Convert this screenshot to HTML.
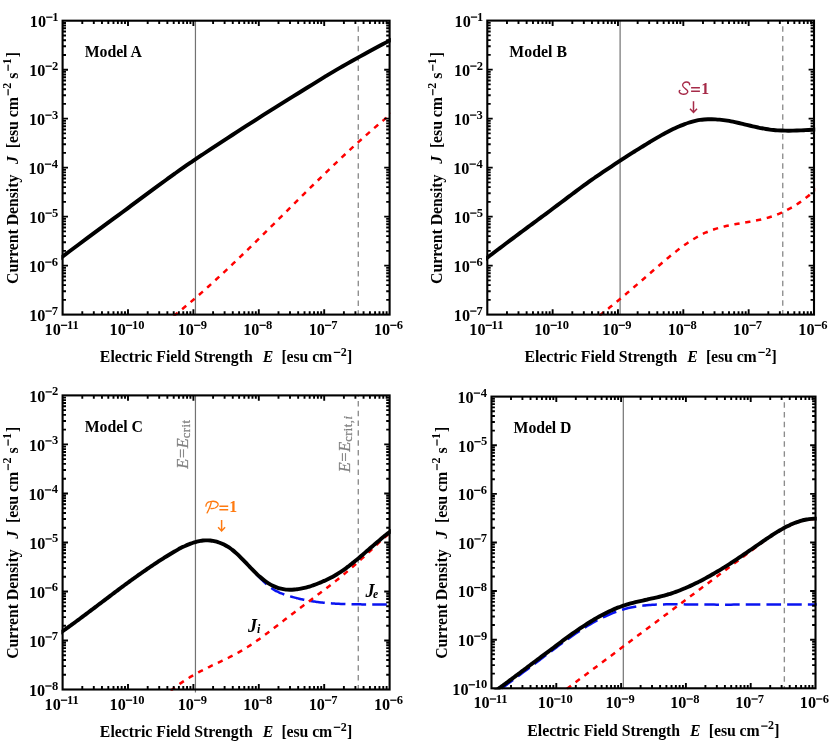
<!DOCTYPE html>
<html><head><meta charset="utf-8"><title>Current density vs electric field strength</title>
<style>html,body{margin:0;padding:0;background:#fff;}body{width:830px;height:741px;overflow:hidden;font-family:"Liberation Serif",serif;}svg{display:block;will-change:transform;}</style>
</head><body>
<svg width="830" height="741" viewBox="0 0 830 741">
<rect width="830" height="741" fill="#fff"/>
<defs>
<clipPath id="cpA"><rect x="61.4" y="19.5" width="329.4" height="296.3"/></clipPath>
<clipPath id="cpB"><rect x="486.1" y="19.4" width="329.1" height="296.4"/></clipPath>
<clipPath id="cpC"><rect x="61.4" y="394.2" width="329.4" height="296.5"/></clipPath>
<clipPath id="cpD"><rect x="490.3" y="395.4" width="326.4" height="294.1"/></clipPath>
</defs>
<g id="panelA">
<line x1="195.45" y1="20.7" x2="195.45" y2="314.6" stroke="#727272" stroke-width="1.2"/>
<line x1="358.28" y1="20.7" x2="358.28" y2="314.6" stroke="#8c8c8c" stroke-width="1.35" stroke-dasharray="5.5 4.29" stroke-dashoffset="4.2"/>
<g clip-path="url(#cpA)" fill="none">
<path d="M160 326.47 C161 325.72 164.02 323.48 166.03 321.95 C168.03 320.41 170.04 318.86 172.05 317.28 C174.06 315.7 176.07 314.1 178.08 312.48 C180.09 310.86 182.09 309.22 184.1 307.56 C186.11 305.9 188.12 304.21 190.13 302.51 C192.14 300.81 194.15 299.09 196.15 297.35 C198.16 295.62 200.17 293.86 202.18 292.09 C204.19 290.32 206.2 288.53 208.21 286.73 C210.21 284.93 212.22 283.11 214.23 281.27 C216.24 279.44 218.25 277.6 220.26 275.74 C222.26 273.88 224.27 272.01 226.28 270.12 C228.29 268.24 230.3 266.34 232.31 264.44 C234.32 262.53 236.32 260.62 238.33 258.69 C240.34 256.77 242.35 254.83 244.36 252.89 C246.37 250.95 248.38 249 250.38 247.04 C252.39 245.08 254.4 243.12 256.41 241.15 C258.42 239.18 260.43 237.2 262.44 235.23 C264.44 233.25 266.45 231.26 268.46 229.27 C270.47 227.29 272.48 225.3 274.49 223.3 C276.5 221.31 278.5 219.31 280.51 217.32 C282.52 215.32 284.53 213.33 286.54 211.33 C288.55 209.33 290.56 207.34 292.56 205.34 C294.57 203.35 296.58 201.36 298.59 199.37 C300.6 197.38 302.61 195.39 304.62 193.41 C306.62 191.42 308.63 189.44 310.64 187.47 C312.65 185.49 314.66 183.52 316.67 181.56 C318.68 179.6 320.68 177.64 322.69 175.69 C324.7 173.74 326.71 171.8 328.72 169.87 C330.73 167.93 332.74 166.01 334.74 164.1 C336.75 162.18 338.76 160.28 340.77 158.38 C342.78 156.49 344.79 154.61 346.79 152.74 C348.8 150.87 350.81 149.01 352.82 147.16 C354.83 145.32 356.84 143.49 358.85 141.67 C360.85 139.86 362.86 138.05 364.87 136.27 C366.88 134.48 368.89 132.71 370.9 130.96 C372.91 129.21 374.91 127.47 376.92 125.75 C378.93 124.04 380.94 122.34 382.95 120.66 C384.96 118.98 386.97 117.32 388.97 115.68 C390.98 114.04 394 111.63 395 110.82" stroke="#ff0000" stroke-width="2.5" stroke-dasharray="5.3 5.7" stroke-dashoffset="4.9"/>
<path d="M52 264.54 C53.47 263.44 57.86 260.11 60.79 257.9 C63.73 255.69 66.66 253.48 69.59 251.28 C72.52 249.08 75.45 246.89 78.38 244.7 C81.32 242.51 84.25 240.32 87.18 238.14 C90.11 235.97 93.04 233.79 95.97 231.62 C98.91 229.46 101.84 227.29 104.77 225.14 C107.7 222.98 110.63 220.83 113.56 218.69 C116.5 216.54 119.43 214.44 122.36 212.27 C125.29 210.1 128.22 207.87 131.15 205.68 C134.09 203.48 137.02 201.3 139.95 199.12 C142.88 196.94 145.81 194.77 148.74 192.61 C151.68 190.45 154.61 188.29 157.54 186.14 C160.47 183.99 163.4 181.85 166.33 179.72 C169.26 177.58 172.2 175.44 175.13 173.34 C178.06 171.23 180.99 169.11 183.92 167.08 C186.85 165.04 189.79 163.1 192.72 161.13 C195.65 159.15 198.58 157.19 201.51 155.23 C204.44 153.27 207.38 151.32 210.31 149.38 C213.24 147.44 216.17 145.51 219.1 143.58 C222.03 141.66 224.97 139.75 227.9 137.84 C230.83 135.94 233.76 134.05 236.69 132.15 C239.62 130.26 242.56 128.37 245.49 126.47 C248.42 124.58 251.35 122.67 254.28 120.78 C257.21 118.89 260.15 117.01 263.08 115.15 C266.01 113.28 268.94 111.42 271.87 109.57 C274.8 107.72 277.74 105.88 280.67 104.06 C283.6 102.23 286.53 100.41 289.46 98.61 C292.39 96.8 295.32 95.03 298.26 93.22 C301.19 91.41 304.12 89.59 307.05 87.78 C309.98 85.96 312.91 84.12 315.85 82.31 C318.78 80.5 321.71 78.7 324.64 76.91 C327.57 75.12 330.5 73.31 333.44 71.58 C336.37 69.84 339.3 68.17 342.23 66.49 C345.16 64.81 348.09 63.16 351.03 61.51 C353.96 59.87 356.89 58.23 359.82 56.61 C362.75 54.99 365.68 53.38 368.62 51.78 C371.55 50.19 374.48 48.6 377.41 47.03 C380.34 45.46 383.27 43.9 386.21 42.35 C389.14 40.81 393.53 38.52 395 37.76" stroke="#000" stroke-width="3.9" stroke-linejoin="round"/>
</g>
<path d="M82.29 314.6v-3.4 M82.29 20.7v3.4 M93.8 314.6v-3.4 M93.8 20.7v3.4 M101.97 314.6v-3.4 M101.97 20.7v3.4 M108.31 314.6v-3.4 M108.31 20.7v3.4 M113.49 314.6v-3.4 M113.49 20.7v3.4 M117.87 314.6v-3.4 M117.87 20.7v3.4 M121.66 314.6v-3.4 M121.66 20.7v3.4 M125.01 314.6v-3.4 M125.01 20.7v3.4 M128 314.6v-5.4 M128 20.7v5.4 M147.69 314.6v-3.4 M147.69 20.7v3.4 M159.2 314.6v-3.4 M159.2 20.7v3.4 M167.37 314.6v-3.4 M167.37 20.7v3.4 M173.71 314.6v-3.4 M173.71 20.7v3.4 M178.89 314.6v-3.4 M178.89 20.7v3.4 M183.27 314.6v-3.4 M183.27 20.7v3.4 M187.06 314.6v-3.4 M187.06 20.7v3.4 M190.41 314.6v-3.4 M190.41 20.7v3.4 M193.4 314.6v-5.4 M193.4 20.7v5.4 M213.09 314.6v-3.4 M213.09 20.7v3.4 M224.6 314.6v-3.4 M224.6 20.7v3.4 M232.77 314.6v-3.4 M232.77 20.7v3.4 M239.11 314.6v-3.4 M239.11 20.7v3.4 M244.29 314.6v-3.4 M244.29 20.7v3.4 M248.67 314.6v-3.4 M248.67 20.7v3.4 M252.46 314.6v-3.4 M252.46 20.7v3.4 M255.81 314.6v-3.4 M255.81 20.7v3.4 M258.8 314.6v-5.4 M258.8 20.7v5.4 M278.49 314.6v-3.4 M278.49 20.7v3.4 M290 314.6v-3.4 M290 20.7v3.4 M298.17 314.6v-3.4 M298.17 20.7v3.4 M304.51 314.6v-3.4 M304.51 20.7v3.4 M309.69 314.6v-3.4 M309.69 20.7v3.4 M314.07 314.6v-3.4 M314.07 20.7v3.4 M317.86 314.6v-3.4 M317.86 20.7v3.4 M321.21 314.6v-3.4 M321.21 20.7v3.4 M324.2 314.6v-5.4 M324.2 20.7v5.4 M343.89 314.6v-3.4 M343.89 20.7v3.4 M355.4 314.6v-3.4 M355.4 20.7v3.4 M363.57 314.6v-3.4 M363.57 20.7v3.4 M369.91 314.6v-3.4 M369.91 20.7v3.4 M375.09 314.6v-3.4 M375.09 20.7v3.4 M379.47 314.6v-3.4 M379.47 20.7v3.4 M383.26 314.6v-3.4 M383.26 20.7v3.4 M386.61 314.6v-3.4 M386.61 20.7v3.4 M62.6 299.85h3.4 M389.6 299.85h-3.4 M62.6 291.23h3.4 M389.6 291.23h-3.4 M62.6 285.11h3.4 M389.6 285.11h-3.4 M62.6 280.36h3.4 M389.6 280.36h-3.4 M62.6 276.48h3.4 M389.6 276.48h-3.4 M62.6 273.2h3.4 M389.6 273.2h-3.4 M62.6 270.36h3.4 M389.6 270.36h-3.4 M62.6 267.86h3.4 M389.6 267.86h-3.4 M62.6 265.62h5.4 M389.6 265.62h-5.4 M62.6 250.87h3.4 M389.6 250.87h-3.4 M62.6 242.25h3.4 M389.6 242.25h-3.4 M62.6 236.13h3.4 M389.6 236.13h-3.4 M62.6 231.38h3.4 M389.6 231.38h-3.4 M62.6 227.5h3.4 M389.6 227.5h-3.4 M62.6 224.22h3.4 M389.6 224.22h-3.4 M62.6 221.38h3.4 M389.6 221.38h-3.4 M62.6 218.87h3.4 M389.6 218.87h-3.4 M62.6 216.63h5.4 M389.6 216.63h-5.4 M62.6 201.89h3.4 M389.6 201.89h-3.4 M62.6 193.26h3.4 M389.6 193.26h-3.4 M62.6 187.14h3.4 M389.6 187.14h-3.4 M62.6 182.4h3.4 M389.6 182.4h-3.4 M62.6 178.52h3.4 M389.6 178.52h-3.4 M62.6 175.24h3.4 M389.6 175.24h-3.4 M62.6 172.4h3.4 M389.6 172.4h-3.4 M62.6 169.89h3.4 M389.6 169.89h-3.4 M62.6 167.65h5.4 M389.6 167.65h-5.4 M62.6 152.9h3.4 M389.6 152.9h-3.4 M62.6 144.28h3.4 M389.6 144.28h-3.4 M62.6 138.16h3.4 M389.6 138.16h-3.4 M62.6 133.41h3.4 M389.6 133.41h-3.4 M62.6 129.53h3.4 M389.6 129.53h-3.4 M62.6 126.25h3.4 M389.6 126.25h-3.4 M62.6 123.41h3.4 M389.6 123.41h-3.4 M62.6 120.91h3.4 M389.6 120.91h-3.4 M62.6 118.67h5.4 M389.6 118.67h-5.4 M62.6 103.92h3.4 M389.6 103.92h-3.4 M62.6 95.3h3.4 M389.6 95.3h-3.4 M62.6 89.18h3.4 M389.6 89.18h-3.4 M62.6 84.43h3.4 M389.6 84.43h-3.4 M62.6 80.55h3.4 M389.6 80.55h-3.4 M62.6 77.27h3.4 M389.6 77.27h-3.4 M62.6 74.43h3.4 M389.6 74.43h-3.4 M62.6 71.92h3.4 M389.6 71.92h-3.4 M62.6 69.68h5.4 M389.6 69.68h-5.4 M62.6 54.94h3.4 M389.6 54.94h-3.4 M62.6 46.31h3.4 M389.6 46.31h-3.4 M62.6 40.19h3.4 M389.6 40.19h-3.4 M62.6 35.45h3.4 M389.6 35.45h-3.4 M62.6 31.57h3.4 M389.6 31.57h-3.4 M62.6 28.29h3.4 M389.6 28.29h-3.4 M62.6 25.45h3.4 M389.6 25.45h-3.4 M62.6 22.94h3.4 M389.6 22.94h-3.4" stroke="#000" stroke-width="1.9" fill="none"/>
<rect x="62.6" y="20.7" width="327" height="293.9" fill="none" stroke="#000" stroke-width="2.1"/>
<g font-family='"Liberation Serif", serif' font-weight="bold" font-size="15.8" fill="#000">
<text x="44.59" y="334.7" font-size="16.2" xml:space="preserve">10</text><rect x="60.92" y="324.68" width="6.3" height="1.25" fill="#000"/><text x="66.92" y="328.8" font-size="12.5" xml:space="preserve">11</text>
<text x="109.55" y="334.7" font-size="16.2" xml:space="preserve">10</text><rect x="125.89" y="324.68" width="6.3" height="1.25" fill="#000"/><text x="131.89" y="328.8" font-size="12.5" xml:space="preserve">10</text>
<text x="177.74" y="334.7" font-size="16.2" xml:space="preserve">10</text><rect x="194.07" y="324.68" width="6.3" height="1.25" fill="#000"/><text x="200.76" y="328.8" font-size="12.5" xml:space="preserve">9</text>
<text x="243.14" y="334.7" font-size="16.2" xml:space="preserve">10</text><rect x="259.47" y="324.68" width="6.3" height="1.25" fill="#000"/><text x="266.09" y="328.8" font-size="12.5" xml:space="preserve">8</text>
<text x="308.63" y="334.7" font-size="16.2" xml:space="preserve">10</text><rect x="324.96" y="324.68" width="6.3" height="1.25" fill="#000"/><text x="331.27" y="328.8" font-size="12.5" xml:space="preserve">7</text>
<text x="373.9" y="334.7" font-size="16.2" xml:space="preserve">10</text><rect x="390.24" y="324.68" width="6.3" height="1.25" fill="#000"/><text x="396.86" y="328.8" font-size="12.5" xml:space="preserve">6</text>
<text x="29.15" y="320.9" font-size="16.2" xml:space="preserve">10</text><rect x="45.49" y="310.48" width="6.3" height="1.25" fill="#000"/><text x="51.8" y="314.6" font-size="12.5" xml:space="preserve">7</text>
<text x="28.9" y="271.92" font-size="16.2" xml:space="preserve">10</text><rect x="45.24" y="261.49" width="6.3" height="1.25" fill="#000"/><text x="51.86" y="265.62" font-size="12.5" xml:space="preserve">6</text>
<text x="29.15" y="222.93" font-size="16.2" xml:space="preserve">10</text><rect x="45.49" y="212.51" width="6.3" height="1.25" fill="#000"/><text x="51.99" y="216.63" font-size="12.5" xml:space="preserve">5</text>
<text x="28.53" y="173.95" font-size="16.2" xml:space="preserve">10</text><rect x="44.86" y="163.53" width="6.3" height="1.25" fill="#000"/><text x="51.74" y="167.65" font-size="12.5" xml:space="preserve">4</text>
<text x="29.03" y="124.97" font-size="16.2" xml:space="preserve">10</text><rect x="45.36" y="114.54" width="6.3" height="1.25" fill="#000"/><text x="51.93" y="118.67" font-size="12.5" xml:space="preserve">3</text>
<text x="29.22" y="75.98" font-size="16.2" xml:space="preserve">10</text><rect x="45.55" y="65.56" width="6.3" height="1.25" fill="#000"/><text x="52.05" y="69.68" font-size="12.5" xml:space="preserve">2</text>
<text x="29.84" y="27" font-size="16.2" xml:space="preserve">10</text><rect x="46.18" y="16.57" width="6.3" height="1.25" fill="#000"/><text x="52.18" y="20.7" font-size="12.5" xml:space="preserve">1</text>
<text x="99.86" y="361.9" font-size="15.8" letter-spacing="-0.02" xml:space="preserve">Electric Field Strength</text>
<text x="262.66" y="361.9" font-size="15.8" font-style="italic" xml:space="preserve">E</text>
<text x="281.39" y="361.9" font-size="15.8" letter-spacing="-0.08" xml:space="preserve">[esu cm</text>
<rect x="333.8" y="351.8" width="6.4" height="1.2" fill="#000"/>
<text x="340.72" y="355.7" font-size="12" xml:space="preserve">2</text>
<text x="346.95" y="361.9" font-size="15.8" xml:space="preserve">]</text>
<g transform="translate(17.6 167.65) rotate(-90)">
<text x="-116.31" y="0" font-size="15.8" letter-spacing="-0.04" xml:space="preserve">Current Density</text>
<text x="3.78" y="0" font-size="15.8" font-style="italic" xml:space="preserve">J</text>
<text x="19.49" y="0" font-size="15.8" letter-spacing="-0.05" xml:space="preserve">[esu cm</text>
<rect x="72.3" y="-10.1" width="6.2" height="1.2" fill="#000"/>
<text x="78.92" y="-6.2" font-size="12" xml:space="preserve">2</text>
<text x="88.83" y="0" font-size="15.8" xml:space="preserve">s</text>
<rect x="96.8" y="-10.1" width="6.2" height="1.2" fill="#000"/>
<text x="103.44" y="-6.2" font-size="12" xml:space="preserve">1</text>
<text x="110.45" y="0" font-size="15.8" xml:space="preserve">]</text>
</g>
<text x="84.66" y="57.2" font-size="15.8" letter-spacing="-0.04" xml:space="preserve">Model A</text>
</g>
</g>
<g id="panelB">
<line x1="620.1" y1="20.6" x2="620.1" y2="314.6" stroke="#727272" stroke-width="1.2"/>
<line x1="782.75" y1="20.6" x2="782.75" y2="314.6" stroke="#8c8c8c" stroke-width="1.35" stroke-dasharray="5.5 4.29" stroke-dashoffset="4.2"/>
<g clip-path="url(#cpB)" fill="none">
<path d="M588 324.05 C588.49 323.7 589.96 322.65 590.94 321.94 C591.92 321.23 592.89 320.51 593.87 319.78 C594.85 319.06 595.83 318.32 596.81 317.59 C597.79 316.85 598.77 316.1 599.75 315.35 C600.73 314.6 601.7 313.84 602.68 313.08 C603.66 312.31 604.64 311.54 605.62 310.77 C606.6 310 607.58 309.22 608.56 308.43 C609.54 307.65 610.51 306.86 611.49 306.06 C612.47 305.27 613.45 304.47 614.43 303.67 C615.41 302.87 616.39 302.06 617.37 301.25 C618.35 300.44 619.32 299.62 620.3 298.81 C621.28 297.99 622.26 297.17 623.24 296.34 C624.22 295.52 625.2 294.69 626.18 293.86 C627.16 293.03 628.14 292.19 629.11 291.36 C630.09 290.52 631.07 289.69 632.05 288.85 C633.03 288.01 634.01 287.16 634.99 286.32 C635.97 285.48 636.95 284.63 637.92 283.78 C638.9 282.94 639.88 282.09 640.86 281.24 C641.84 280.39 642.82 279.54 643.8 278.69 C644.78 277.84 645.76 276.99 646.73 276.14 C647.71 275.29 648.69 274.44 649.67 273.58 C650.65 272.73 651.63 271.88 652.61 271.03 C653.59 270.18 654.57 269.33 655.54 268.48 C656.52 267.64 657.5 266.79 658.48 265.95 C659.46 265.1 660.44 264.26 661.42 263.43 C662.4 262.59 663.38 261.76 664.35 260.94 C665.33 260.11 666.31 259.29 667.29 258.48 C668.27 257.66 669.25 256.85 670.23 256.06 C671.21 255.26 672.19 254.46 673.16 253.68 C674.14 252.9 675.12 252.13 676.1 251.36 C677.08 250.6 678.06 249.85 679.04 249.11 C680.02 248.36 681 247.63 681.97 246.92 C682.95 246.2 683.93 245.49 684.91 244.8 C685.89 244.11 686.87 243.43 687.85 242.77 C688.83 242.11 689.81 241.46 690.78 240.83 C691.76 240.2 692.74 239.58 693.72 238.98 C694.7 238.39 695.68 237.81 696.66 237.24 C697.64 236.68 698.62 236.14 699.59 235.61 C700.57 235.09 701.55 234.59 702.53 234.1 C703.51 233.62 704.49 233.16 705.47 232.72 C706.45 232.28 707.43 231.86 708.41 231.46 C709.38 231.06 710.36 230.68 711.34 230.32 C712.32 229.96 713.3 229.62 714.28 229.29 C715.26 228.96 716.24 228.66 717.22 228.36 C718.19 228.06 719.17 227.79 720.15 227.52 C721.13 227.25 722.11 227 723.09 226.76 C724.07 226.51 725.05 226.29 726.03 226.06 C727 225.84 727.98 225.63 728.96 225.43 C729.94 225.23 730.92 225.03 731.9 224.84 C732.88 224.65 733.86 224.47 734.84 224.3 C735.81 224.12 736.79 223.95 737.77 223.78 C738.75 223.61 739.73 223.44 740.71 223.28 C741.69 223.11 742.67 222.95 743.65 222.78 C744.62 222.62 745.6 222.45 746.58 222.29 C747.56 222.12 748.54 221.95 749.52 221.78 C750.5 221.6 751.48 221.43 752.46 221.25 C753.43 221.06 754.41 220.88 755.39 220.68 C756.37 220.49 757.35 220.29 758.33 220.08 C759.31 219.87 760.29 219.65 761.27 219.42 C762.24 219.19 763.22 218.95 764.2 218.69 C765.18 218.44 766.16 218.18 767.14 217.9 C768.12 217.62 769.1 217.33 770.08 217.02 C771.05 216.71 772.03 216.39 773.01 216.05 C773.99 215.71 774.97 215.35 775.95 214.98 C776.93 214.61 777.91 214.22 778.89 213.82 C779.86 213.41 780.84 212.99 781.82 212.55 C782.8 212.11 783.78 211.65 784.76 211.18 C785.74 210.7 786.72 210.21 787.7 209.7 C788.68 209.19 789.65 208.66 790.63 208.11 C791.61 207.56 792.59 206.99 793.57 206.4 C794.55 205.81 795.53 205.2 796.51 204.58 C797.49 203.95 798.46 203.3 799.44 202.63 C800.42 201.96 801.4 201.27 802.38 200.56 C803.36 199.85 804.34 199.11 805.32 198.36 C806.3 197.6 807.27 196.83 808.25 196.03 C809.23 195.23 810.21 194.41 811.19 193.56 C812.17 192.72 813.15 191.85 814.13 190.96 C815.11 190.07 816.08 189.15 817.06 188.22 C818.04 187.28 819.51 185.81 820 185.33" stroke="#ff0000" stroke-width="2.5" stroke-dasharray="5.3 5.7" stroke-dashoffset="7.72"/>
<path d="M476 266.18 C476.64 265.69 478.58 264.22 479.87 263.25 C481.15 262.27 482.44 261.3 483.73 260.32 C485.02 259.35 486.31 258.38 487.6 257.4 C488.88 256.43 490.17 255.44 491.46 254.47 C492.75 253.49 494.04 252.51 495.33 251.54 C496.61 250.56 497.9 249.59 499.19 248.62 C500.48 247.64 501.77 246.67 503.06 245.7 C504.34 244.73 505.63 243.76 506.92 242.8 C508.21 241.83 509.5 240.86 510.79 239.9 C512.07 238.93 513.36 237.97 514.65 237.01 C515.94 236.04 517.23 235.08 518.52 234.12 C519.81 233.16 521.09 232.2 522.38 231.24 C523.67 230.28 524.96 229.32 526.25 228.37 C527.54 227.41 528.82 226.46 530.11 225.5 C531.4 224.55 532.69 223.59 533.98 222.64 C535.27 221.69 536.55 220.74 537.84 219.79 C539.13 218.83 540.42 217.89 541.71 216.94 C543 215.99 544.28 215.05 545.57 214.09 C546.86 213.14 548.15 212.17 549.44 211.2 C550.73 210.24 552.01 209.26 553.3 208.29 C554.59 207.32 555.88 206.35 557.17 205.38 C558.46 204.41 559.75 203.44 561.03 202.48 C562.32 201.51 563.61 200.54 564.9 199.58 C566.19 198.61 567.48 197.65 568.76 196.68 C570.05 195.72 571.34 194.76 572.63 193.8 C573.92 192.84 575.21 191.87 576.49 190.92 C577.78 189.96 579.07 189 580.36 188.05 C581.65 187.09 582.94 186.14 584.22 185.19 C585.51 184.23 586.8 183.27 588.09 182.34 C589.38 181.41 590.67 180.49 591.96 179.59 C593.24 178.69 594.53 177.82 595.82 176.94 C597.11 176.06 598.4 175.18 599.69 174.31 C600.97 173.44 602.26 172.57 603.55 171.7 C604.84 170.83 606.13 169.97 607.42 169.11 C608.7 168.25 609.99 167.39 611.28 166.54 C612.57 165.69 613.86 164.84 615.15 163.99 C616.43 163.14 617.72 162.28 619.01 161.43 C620.3 160.59 621.59 159.74 622.88 158.9 C624.16 158.07 625.45 157.23 626.74 156.4 C628.03 155.57 629.32 154.75 630.61 153.93 C631.9 153.11 633.18 152.3 634.47 151.49 C635.76 150.69 637.05 149.88 638.34 149.09 C639.63 148.29 640.91 147.5 642.2 146.72 C643.49 145.93 644.78 145.15 646.07 144.36 C647.36 143.57 648.64 142.76 649.93 141.97 C651.22 141.19 652.51 140.41 653.8 139.64 C655.09 138.87 656.37 138.11 657.66 137.37 C658.95 136.62 660.24 135.89 661.53 135.17 C662.82 134.45 664.1 133.74 665.39 133.06 C666.68 132.37 667.97 131.69 669.26 131.03 C670.55 130.38 671.84 129.74 673.12 129.12 C674.41 128.49 675.7 127.89 676.99 127.31 C678.28 126.72 679.57 126.16 680.85 125.62 C682.14 125.09 683.43 124.57 684.72 124.09 C686.01 123.61 687.3 123.15 688.58 122.73 C689.87 122.31 691.16 121.91 692.45 121.56 C693.74 121.21 695.03 120.89 696.31 120.61 C697.6 120.33 698.89 120.08 700.18 119.89 C701.47 119.7 702.76 119.57 704.04 119.46 C705.33 119.36 706.62 119.29 707.91 119.25 C709.2 119.21 710.49 119.2 711.78 119.22 C713.06 119.24 714.35 119.29 715.64 119.37 C716.93 119.44 718.22 119.54 719.51 119.67 C720.79 119.8 722.08 119.95 723.37 120.12 C724.66 120.29 725.95 120.48 727.24 120.69 C728.52 120.9 729.81 121.13 731.1 121.38 C732.39 121.62 733.68 121.88 734.97 122.15 C736.25 122.43 737.54 122.71 738.83 123 C740.12 123.29 741.41 123.6 742.7 123.9 C743.99 124.2 745.27 124.51 746.56 124.82 C747.85 125.13 749.14 125.44 750.43 125.74 C751.72 126.04 753 126.35 754.29 126.64 C755.58 126.93 756.87 127.22 758.16 127.5 C759.45 127.77 760.73 128.04 762.02 128.28 C763.31 128.53 764.6 128.77 765.89 128.98 C767.18 129.19 768.46 129.39 769.75 129.57 C771.04 129.74 772.33 129.89 773.62 130.02 C774.91 130.15 776.19 130.25 777.48 130.34 C778.77 130.43 780.06 130.5 781.35 130.56 C782.64 130.61 783.93 130.65 785.21 130.67 C786.5 130.69 787.79 130.7 789.08 130.7 C790.37 130.69 791.66 130.67 792.94 130.65 C794.23 130.62 795.52 130.58 796.81 130.53 C798.1 130.49 799.39 130.43 800.67 130.37 C801.96 130.31 803.25 130.25 804.54 130.18 C805.83 130.11 807.12 130.03 808.4 129.96 C809.69 129.88 810.98 129.8 812.27 129.72 C813.56 129.65 814.85 129.57 816.13 129.49 C817.42 129.42 819.36 129.31 820 129.28" stroke="#000" stroke-width="3.9" stroke-linejoin="round"/>
</g>
<path d="M506.97 314.6v-3.4 M506.97 20.6v3.4 M518.48 314.6v-3.4 M518.48 20.6v3.4 M526.64 314.6v-3.4 M526.64 20.6v3.4 M532.97 314.6v-3.4 M532.97 20.6v3.4 M538.14 314.6v-3.4 M538.14 20.6v3.4 M542.52 314.6v-3.4 M542.52 20.6v3.4 M546.31 314.6v-3.4 M546.31 20.6v3.4 M549.65 314.6v-3.4 M549.65 20.6v3.4 M552.64 314.6v-5.4 M552.64 20.6v5.4 M572.31 314.6v-3.4 M572.31 20.6v3.4 M583.82 314.6v-3.4 M583.82 20.6v3.4 M591.98 314.6v-3.4 M591.98 20.6v3.4 M598.31 314.6v-3.4 M598.31 20.6v3.4 M603.48 314.6v-3.4 M603.48 20.6v3.4 M607.86 314.6v-3.4 M607.86 20.6v3.4 M611.65 314.6v-3.4 M611.65 20.6v3.4 M614.99 314.6v-3.4 M614.99 20.6v3.4 M617.98 314.6v-5.4 M617.98 20.6v5.4 M637.65 314.6v-3.4 M637.65 20.6v3.4 M649.16 314.6v-3.4 M649.16 20.6v3.4 M657.32 314.6v-3.4 M657.32 20.6v3.4 M663.65 314.6v-3.4 M663.65 20.6v3.4 M668.82 314.6v-3.4 M668.82 20.6v3.4 M673.2 314.6v-3.4 M673.2 20.6v3.4 M676.99 314.6v-3.4 M676.99 20.6v3.4 M680.33 314.6v-3.4 M680.33 20.6v3.4 M683.32 314.6v-5.4 M683.32 20.6v5.4 M702.99 314.6v-3.4 M702.99 20.6v3.4 M714.5 314.6v-3.4 M714.5 20.6v3.4 M722.66 314.6v-3.4 M722.66 20.6v3.4 M728.99 314.6v-3.4 M728.99 20.6v3.4 M734.16 314.6v-3.4 M734.16 20.6v3.4 M738.54 314.6v-3.4 M738.54 20.6v3.4 M742.33 314.6v-3.4 M742.33 20.6v3.4 M745.67 314.6v-3.4 M745.67 20.6v3.4 M748.66 314.6v-5.4 M748.66 20.6v5.4 M768.33 314.6v-3.4 M768.33 20.6v3.4 M779.84 314.6v-3.4 M779.84 20.6v3.4 M788 314.6v-3.4 M788 20.6v3.4 M794.33 314.6v-3.4 M794.33 20.6v3.4 M799.5 314.6v-3.4 M799.5 20.6v3.4 M803.88 314.6v-3.4 M803.88 20.6v3.4 M807.67 314.6v-3.4 M807.67 20.6v3.4 M811.01 314.6v-3.4 M811.01 20.6v3.4 M487.3 299.85h3.4 M814 299.85h-3.4 M487.3 291.22h3.4 M814 291.22h-3.4 M487.3 285.1h3.4 M814 285.1h-3.4 M487.3 280.35h3.4 M814 280.35h-3.4 M487.3 276.47h3.4 M814 276.47h-3.4 M487.3 273.19h3.4 M814 273.19h-3.4 M487.3 270.35h3.4 M814 270.35h-3.4 M487.3 267.84h3.4 M814 267.84h-3.4 M487.3 265.6h5.4 M814 265.6h-5.4 M487.3 250.85h3.4 M814 250.85h-3.4 M487.3 242.22h3.4 M814 242.22h-3.4 M487.3 236.1h3.4 M814 236.1h-3.4 M487.3 231.35h3.4 M814 231.35h-3.4 M487.3 227.47h3.4 M814 227.47h-3.4 M487.3 224.19h3.4 M814 224.19h-3.4 M487.3 221.35h3.4 M814 221.35h-3.4 M487.3 218.84h3.4 M814 218.84h-3.4 M487.3 216.6h5.4 M814 216.6h-5.4 M487.3 201.85h3.4 M814 201.85h-3.4 M487.3 193.22h3.4 M814 193.22h-3.4 M487.3 187.1h3.4 M814 187.1h-3.4 M487.3 182.35h3.4 M814 182.35h-3.4 M487.3 178.47h3.4 M814 178.47h-3.4 M487.3 175.19h3.4 M814 175.19h-3.4 M487.3 172.35h3.4 M814 172.35h-3.4 M487.3 169.84h3.4 M814 169.84h-3.4 M487.3 167.6h5.4 M814 167.6h-5.4 M487.3 152.85h3.4 M814 152.85h-3.4 M487.3 144.22h3.4 M814 144.22h-3.4 M487.3 138.1h3.4 M814 138.1h-3.4 M487.3 133.35h3.4 M814 133.35h-3.4 M487.3 129.47h3.4 M814 129.47h-3.4 M487.3 126.19h3.4 M814 126.19h-3.4 M487.3 123.35h3.4 M814 123.35h-3.4 M487.3 120.84h3.4 M814 120.84h-3.4 M487.3 118.6h5.4 M814 118.6h-5.4 M487.3 103.85h3.4 M814 103.85h-3.4 M487.3 95.22h3.4 M814 95.22h-3.4 M487.3 89.1h3.4 M814 89.1h-3.4 M487.3 84.35h3.4 M814 84.35h-3.4 M487.3 80.47h3.4 M814 80.47h-3.4 M487.3 77.19h3.4 M814 77.19h-3.4 M487.3 74.35h3.4 M814 74.35h-3.4 M487.3 71.84h3.4 M814 71.84h-3.4 M487.3 69.6h5.4 M814 69.6h-5.4 M487.3 54.85h3.4 M814 54.85h-3.4 M487.3 46.22h3.4 M814 46.22h-3.4 M487.3 40.1h3.4 M814 40.1h-3.4 M487.3 35.35h3.4 M814 35.35h-3.4 M487.3 31.47h3.4 M814 31.47h-3.4 M487.3 28.19h3.4 M814 28.19h-3.4 M487.3 25.35h3.4 M814 25.35h-3.4 M487.3 22.84h3.4 M814 22.84h-3.4" stroke="#000" stroke-width="1.9" fill="none"/>
<rect x="487.3" y="20.6" width="326.7" height="294" fill="none" stroke="#000" stroke-width="2.1"/>
<g font-family='"Liberation Serif", serif' font-weight="bold" font-size="15.8" fill="#000">
<text x="469.29" y="334.7" font-size="16.2" xml:space="preserve">10</text><rect x="485.62" y="324.68" width="6.3" height="1.25" fill="#000"/><text x="491.62" y="328.8" font-size="12.5" xml:space="preserve">11</text>
<text x="534.19" y="334.7" font-size="16.2" xml:space="preserve">10</text><rect x="550.53" y="324.68" width="6.3" height="1.25" fill="#000"/><text x="556.53" y="328.8" font-size="12.5" xml:space="preserve">10</text>
<text x="602.32" y="334.7" font-size="16.2" xml:space="preserve">10</text><rect x="618.65" y="324.68" width="6.3" height="1.25" fill="#000"/><text x="625.34" y="328.8" font-size="12.5" xml:space="preserve">9</text>
<text x="667.66" y="334.7" font-size="16.2" xml:space="preserve">10</text><rect x="683.99" y="324.68" width="6.3" height="1.25" fill="#000"/><text x="690.61" y="328.8" font-size="12.5" xml:space="preserve">8</text>
<text x="733.09" y="334.7" font-size="16.2" xml:space="preserve">10</text><rect x="749.42" y="324.68" width="6.3" height="1.25" fill="#000"/><text x="755.73" y="328.8" font-size="12.5" xml:space="preserve">7</text>
<text x="798.3" y="334.7" font-size="16.2" xml:space="preserve">10</text><rect x="814.64" y="324.68" width="6.3" height="1.25" fill="#000"/><text x="821.26" y="328.8" font-size="12.5" xml:space="preserve">6</text>
<text x="453.85" y="320.9" font-size="16.2" xml:space="preserve">10</text><rect x="470.19" y="310.48" width="6.3" height="1.25" fill="#000"/><text x="476.5" y="314.6" font-size="12.5" xml:space="preserve">7</text>
<text x="453.6" y="271.9" font-size="16.2" xml:space="preserve">10</text><rect x="469.94" y="261.48" width="6.3" height="1.25" fill="#000"/><text x="476.56" y="265.6" font-size="12.5" xml:space="preserve">6</text>
<text x="453.85" y="222.9" font-size="16.2" xml:space="preserve">10</text><rect x="470.19" y="212.48" width="6.3" height="1.25" fill="#000"/><text x="476.69" y="216.6" font-size="12.5" xml:space="preserve">5</text>
<text x="453.23" y="173.9" font-size="16.2" xml:space="preserve">10</text><rect x="469.56" y="163.48" width="6.3" height="1.25" fill="#000"/><text x="476.44" y="167.6" font-size="12.5" xml:space="preserve">4</text>
<text x="453.73" y="124.9" font-size="16.2" xml:space="preserve">10</text><rect x="470.06" y="114.48" width="6.3" height="1.25" fill="#000"/><text x="476.62" y="118.6" font-size="12.5" xml:space="preserve">3</text>
<text x="453.92" y="75.9" font-size="16.2" xml:space="preserve">10</text><rect x="470.25" y="65.48" width="6.3" height="1.25" fill="#000"/><text x="476.75" y="69.6" font-size="12.5" xml:space="preserve">2</text>
<text x="454.54" y="26.9" font-size="16.2" xml:space="preserve">10</text><rect x="470.88" y="16.48" width="6.3" height="1.25" fill="#000"/><text x="476.88" y="20.6" font-size="12.5" xml:space="preserve">1</text>
<text x="524.41" y="361.9" font-size="15.8" letter-spacing="-0.02" xml:space="preserve">Electric Field Strength</text>
<text x="687.21" y="361.9" font-size="15.8" font-style="italic" xml:space="preserve">E</text>
<text x="705.94" y="361.9" font-size="15.8" letter-spacing="-0.08" xml:space="preserve">[esu cm</text>
<rect x="758.35" y="351.8" width="6.4" height="1.2" fill="#000"/>
<text x="765.27" y="355.7" font-size="12" xml:space="preserve">2</text>
<text x="771.5" y="361.9" font-size="15.8" xml:space="preserve">]</text>
<g transform="translate(442.3 167.6) rotate(-90)">
<text x="-116.31" y="0" font-size="15.8" letter-spacing="-0.04" xml:space="preserve">Current Density</text>
<text x="3.78" y="0" font-size="15.8" font-style="italic" xml:space="preserve">J</text>
<text x="19.49" y="0" font-size="15.8" letter-spacing="-0.05" xml:space="preserve">[esu cm</text>
<rect x="72.3" y="-10.1" width="6.2" height="1.2" fill="#000"/>
<text x="78.92" y="-6.2" font-size="12" xml:space="preserve">2</text>
<text x="88.83" y="0" font-size="15.8" xml:space="preserve">s</text>
<rect x="96.8" y="-10.1" width="6.2" height="1.2" fill="#000"/>
<text x="103.44" y="-6.2" font-size="12" xml:space="preserve">1</text>
<text x="110.45" y="0" font-size="15.8" xml:space="preserve">]</text>
</g>
<text x="509.36" y="57.1" font-size="15.8" letter-spacing="0.02" xml:space="preserve">Model B</text>
</g>
</g>
<g id="panelC">
<line x1="195.45" y1="395.4" x2="195.45" y2="692.5" stroke="#727272" stroke-width="1.2"/>
<line x1="358.28" y1="395.4" x2="358.28" y2="689.5" stroke="#8c8c8c" stroke-width="1.35" stroke-dasharray="5.5 4.29" stroke-dashoffset="4.2"/>
<g clip-path="url(#cpC)" fill="none">
<path d="M200 541.03 C200.37 540.97 201.47 540.77 202.2 540.68 C202.94 540.58 203.67 540.5 204.4 540.45 C205.14 540.39 205.87 540.36 206.61 540.35 C207.34 540.34 208.07 540.35 208.81 540.39 C209.54 540.42 210.28 540.48 211.01 540.56 C211.75 540.65 212.48 540.75 213.21 540.88 C213.95 541.01 214.68 541.16 215.42 541.34 C216.15 541.52 216.88 541.72 217.62 541.95 C218.35 542.17 219.09 542.42 219.82 542.7 C220.55 542.98 221.29 543.28 222.02 543.61 C222.76 543.94 223.49 544.29 224.22 544.67 C224.96 545.05 225.69 545.46 226.43 545.89 C227.16 546.32 227.9 546.78 228.63 547.27 C229.36 547.76 230.1 548.28 230.83 548.82 C231.57 549.36 232.3 549.93 233.03 550.52 C233.77 551.11 234.5 551.73 235.24 552.37 C235.97 553 236.7 553.66 237.44 554.34 C238.17 555.01 238.91 555.71 239.64 556.42 C240.37 557.13 241.11 557.86 241.84 558.6 C242.58 559.33 243.31 560.09 244.04 560.85 C244.78 561.61 245.51 562.39 246.25 563.16 C246.98 563.94 247.72 564.73 248.45 565.52 C249.18 566.32 249.92 567.11 250.65 567.91 C251.39 568.71 252.12 569.51 252.85 570.31 C253.59 571.11 254.32 571.91 255.06 572.71 C255.79 573.5 256.52 574.3 257.26 575.08 C257.99 575.86 258.73 576.63 259.46 577.4 C260.19 578.16 260.93 578.91 261.66 579.64 C262.4 580.37 263.13 581.09 263.87 581.79 C264.6 582.48 265.33 583.16 266.07 583.82 C266.8 584.47 267.54 585.1 268.27 585.7 C269 586.3 269.74 586.88 270.47 587.42 C271.21 587.96 271.94 588.47 272.67 588.95 C273.41 589.43 274.14 589.88 274.88 590.3 C275.61 590.72 276.34 591.12 277.08 591.49 C277.81 591.86 278.55 592.21 279.28 592.53 C280.01 592.86 280.75 593.17 281.48 593.46 C282.22 593.75 282.95 594.03 283.69 594.29 C284.42 594.55 285.15 594.8 285.89 595.04 C286.62 595.28 287.36 595.51 288.09 595.74 C288.82 595.97 289.56 596.18 290.29 596.4 C291.03 596.61 291.76 596.82 292.49 597.02 C293.23 597.22 293.96 597.42 294.7 597.61 C295.43 597.8 296.16 597.99 296.9 598.17 C297.63 598.35 298.37 598.53 299.1 598.7 C299.84 598.87 300.57 599.03 301.3 599.19 C302.04 599.35 302.77 599.51 303.51 599.66 C304.24 599.81 304.97 599.96 305.71 600.1 C306.44 600.24 307.18 600.37 307.91 600.51 C308.64 600.64 309.38 600.77 310.11 600.89 C310.85 601.01 311.58 601.13 312.31 601.25 C313.05 601.36 313.78 601.47 314.52 601.58 C315.25 601.68 315.99 601.79 316.72 601.89 C317.45 601.98 318.19 602.08 318.92 602.17 C319.66 602.26 320.39 602.35 321.12 602.43 C321.86 602.51 322.59 602.59 323.33 602.67 C324.06 602.75 324.79 602.82 325.53 602.89 C326.26 602.96 327 603.03 327.73 603.09 C328.46 603.16 329.2 603.22 329.93 603.27 C330.67 603.33 331.4 603.39 332.13 603.44 C332.87 603.49 333.6 603.54 334.34 603.58 C335.07 603.63 335.81 603.67 336.54 603.72 C337.27 603.76 338.01 603.8 338.74 603.83 C339.48 603.87 340.21 603.9 340.94 603.93 C341.68 603.97 342.41 604 343.15 604.02 C343.88 604.05 344.61 604.08 345.35 604.1 C346.08 604.12 346.82 604.15 347.55 604.17 C348.28 604.19 349.02 604.2 349.75 604.22 C350.49 604.24 351.22 604.25 351.96 604.27 C352.69 604.28 353.42 604.29 354.16 604.3 C354.89 604.32 355.63 604.33 356.36 604.33 C357.09 604.34 357.83 604.35 358.56 604.36 C359.3 604.36 360.03 604.37 360.76 604.37 C361.5 604.38 362.23 604.38 362.97 604.39 C363.7 604.39 364.43 604.39 365.17 604.4 C365.9 604.4 366.64 604.4 367.37 604.4 C368.1 604.4 368.84 604.4 369.57 604.41 C370.31 604.41 371.04 604.41 371.78 604.41 C372.51 604.41 373.24 604.41 373.98 604.41 C374.71 604.41 375.45 604.41 376.18 604.41 C376.91 604.41 377.65 604.42 378.38 604.42 C379.12 604.42 379.85 604.42 380.58 604.42 C381.32 604.43 382.05 604.43 382.79 604.43 C383.52 604.44 384.25 604.44 384.99 604.45 C385.72 604.46 386.46 604.46 387.19 604.47 C387.93 604.48 388.66 604.49 389.39 604.5 C390.13 604.51 390.86 604.52 391.6 604.53 C392.33 604.54 393.06 604.56 393.8 604.57 C394.53 604.59 395.63 604.61 396 604.62" stroke="#0a14f0" stroke-width="2.5" stroke-dasharray="14.6 6.1" stroke-dashoffset="14.3"/>
<path d="M160 700.52 C160.44 700.09 161.77 698.79 162.65 697.95 C163.54 697.11 164.42 696.3 165.3 695.5 C166.19 694.7 167.07 693.91 167.96 693.15 C168.84 692.39 169.72 691.64 170.61 690.91 C171.49 690.18 172.37 689.46 173.26 688.77 C174.14 688.07 175.03 687.39 175.91 686.72 C176.79 686.05 177.68 685.4 178.56 684.76 C179.45 684.12 180.33 683.49 181.21 682.88 C182.1 682.27 182.98 681.67 183.87 681.08 C184.75 680.49 185.63 679.92 186.52 679.36 C187.4 678.79 188.28 678.24 189.17 677.7 C190.05 677.16 190.94 676.63 191.82 676.11 C192.7 675.59 193.59 675.08 194.47 674.57 C195.36 674.07 196.24 673.58 197.12 673.09 C198.01 672.61 198.89 672.13 199.78 671.66 C200.66 671.19 201.54 670.73 202.43 670.27 C203.31 669.82 204.19 669.37 205.08 668.92 C205.96 668.48 206.85 668.04 207.73 667.61 C208.61 667.17 209.5 666.74 210.38 666.32 C211.27 665.89 212.15 665.47 213.03 665.05 C213.92 664.63 214.8 664.22 215.69 663.8 C216.57 663.39 217.45 662.98 218.34 662.56 C219.22 662.15 220.1 661.73 220.99 661.32 C221.87 660.9 222.76 660.48 223.64 660.06 C224.52 659.64 225.41 659.22 226.29 658.79 C227.18 658.37 228.06 657.94 228.94 657.5 C229.83 657.06 230.71 656.62 231.6 656.17 C232.48 655.72 233.36 655.26 234.25 654.8 C235.13 654.33 236.01 653.86 236.9 653.37 C237.78 652.89 238.67 652.4 239.55 651.89 C240.43 651.39 241.32 650.87 242.2 650.35 C243.09 649.82 243.97 649.29 244.85 648.74 C245.74 648.19 246.62 647.64 247.51 647.07 C248.39 646.51 249.27 645.93 250.16 645.35 C251.04 644.77 251.93 644.18 252.81 643.58 C253.69 642.98 254.58 642.37 255.46 641.76 C256.34 641.14 257.23 640.52 258.11 639.89 C259 639.27 259.88 638.63 260.76 637.99 C261.65 637.35 262.53 636.71 263.42 636.06 C264.3 635.41 265.18 634.75 266.07 634.09 C266.95 633.43 267.84 632.77 268.72 632.1 C269.6 631.43 270.49 630.76 271.37 630.09 C272.25 629.41 273.14 628.74 274.02 628.06 C274.91 627.38 275.79 626.69 276.67 626.01 C277.56 625.33 278.44 624.64 279.33 623.96 C280.21 623.27 281.09 622.58 281.98 621.9 C282.86 621.21 283.75 620.52 284.63 619.83 C285.51 619.15 286.4 618.46 287.28 617.78 C288.16 617.09 289.05 616.41 289.93 615.72 C290.82 615.04 291.7 614.36 292.58 613.68 C293.47 613 294.35 612.33 295.24 611.66 C296.12 610.98 297 610.31 297.89 609.64 C298.77 608.98 299.66 608.31 300.54 607.65 C301.42 606.98 302.31 606.32 303.19 605.66 C304.07 604.99 304.96 604.33 305.84 603.67 C306.73 603.01 307.61 602.35 308.49 601.69 C309.38 601.03 310.26 600.38 311.15 599.72 C312.03 599.06 312.91 598.4 313.8 597.74 C314.68 597.08 315.57 596.42 316.45 595.76 C317.33 595.09 318.22 594.43 319.1 593.77 C319.99 593.1 320.87 592.43 321.75 591.77 C322.64 591.1 323.52 590.43 324.4 589.76 C325.29 589.08 326.17 588.41 327.06 587.73 C327.94 587.05 328.82 586.37 329.71 585.68 C330.59 585 331.48 584.31 332.36 583.62 C333.24 582.93 334.13 582.23 335.01 581.53 C335.9 580.83 336.78 580.13 337.66 579.42 C338.55 578.71 339.43 578 340.31 577.28 C341.2 576.56 342.08 575.83 342.97 575.1 C343.85 574.37 344.73 573.64 345.62 572.9 C346.5 572.15 347.39 571.41 348.27 570.65 C349.15 569.9 350.04 569.14 350.92 568.37 C351.81 567.61 352.69 566.84 353.57 566.06 C354.46 565.29 355.34 564.5 356.22 563.72 C357.11 562.93 357.99 562.14 358.88 561.34 C359.76 560.54 360.64 559.74 361.53 558.93 C362.41 558.13 363.3 557.32 364.18 556.5 C365.06 555.68 365.95 554.86 366.83 554.04 C367.72 553.21 368.6 552.39 369.48 551.55 C370.37 550.72 371.25 549.88 372.13 549.04 C373.02 548.2 373.9 547.36 374.79 546.52 C375.67 545.68 376.55 544.84 377.44 544.01 C378.32 543.18 379.21 542.35 380.09 541.53 C380.97 540.71 381.86 539.9 382.74 539.11 C383.63 538.31 384.51 537.52 385.39 536.76 C386.28 535.99 387.16 535.23 388.04 534.5 C388.93 533.77 389.81 533.06 390.7 532.37 C391.58 531.68 392.46 531.01 393.35 530.37 C394.23 529.73 395.56 528.84 396 528.54" stroke="#ff0000" stroke-width="2.5" stroke-dasharray="5.3 5.7" stroke-dashoffset="7.5"/>
<path d="M52 638.44 C52.41 638.17 53.65 637.35 54.47 636.8 C55.3 636.25 56.12 635.69 56.95 635.13 C57.77 634.57 58.6 634.01 59.42 633.45 C60.25 632.89 61.07 632.33 61.9 631.75 C62.72 631.18 63.55 630.59 64.37 630.01 C65.2 629.42 66.02 628.83 66.85 628.24 C67.67 627.64 68.5 627.05 69.32 626.45 C70.15 625.85 70.97 625.26 71.8 624.65 C72.62 624.05 73.45 623.45 74.27 622.84 C75.1 622.24 75.92 621.63 76.75 621.02 C77.57 620.42 78.4 619.81 79.22 619.2 C80.05 618.58 80.87 617.97 81.7 617.36 C82.52 616.74 83.35 616.13 84.17 615.51 C85 614.89 85.82 614.28 86.65 613.66 C87.47 613.04 88.3 612.42 89.12 611.8 C89.95 611.18 90.77 610.56 91.6 609.93 C92.42 609.31 93.25 608.69 94.07 608.07 C94.9 607.44 95.72 606.82 96.55 606.2 C97.37 605.57 98.2 604.95 99.02 604.32 C99.85 603.7 100.67 603.08 101.5 602.45 C102.32 601.83 103.15 601.2 103.97 600.58 C104.8 599.95 105.62 599.33 106.45 598.71 C107.27 598.08 108.1 597.46 108.92 596.84 C109.75 596.21 110.57 595.59 111.4 594.97 C112.22 594.35 113.05 593.73 113.87 593.11 C114.7 592.49 115.52 591.87 116.35 591.25 C117.17 590.63 118 590.01 118.82 589.4 C119.65 588.78 120.47 588.16 121.29 587.55 C122.12 586.94 122.94 586.33 123.77 585.72 C124.59 585.11 125.42 584.5 126.24 583.9 C127.07 583.29 127.89 582.69 128.72 582.09 C129.54 581.49 130.37 580.89 131.19 580.29 C132.02 579.69 132.84 579.1 133.67 578.5 C134.49 577.91 135.32 577.32 136.14 576.73 C136.97 576.14 137.79 575.55 138.62 574.97 C139.44 574.39 140.27 573.8 141.09 573.22 C141.92 572.65 142.74 572.07 143.57 571.5 C144.39 570.92 145.22 570.35 146.04 569.78 C146.87 569.21 147.69 568.65 148.52 568.09 C149.34 567.53 150.17 566.97 150.99 566.41 C151.82 565.86 152.64 565.3 153.47 564.75 C154.29 564.2 155.12 563.65 155.94 563.11 C156.77 562.56 157.59 562.02 158.42 561.48 C159.24 560.95 160.07 560.41 160.89 559.88 C161.72 559.36 162.54 558.83 163.37 558.31 C164.19 557.79 165.02 557.27 165.84 556.76 C166.67 556.25 167.49 555.74 168.32 555.23 C169.14 554.73 169.97 554.23 170.79 553.73 C171.62 553.24 172.44 552.75 173.27 552.26 C174.09 551.78 174.92 551.3 175.74 550.82 C176.57 550.35 177.39 549.88 178.22 549.42 C179.04 548.96 179.87 548.5 180.69 548.07 C181.52 547.63 182.34 547.21 183.17 546.81 C183.99 546.41 184.82 546.03 185.64 545.66 C186.47 545.29 187.29 544.94 188.12 544.6 C188.94 544.26 189.76 543.93 190.59 543.62 C191.41 543.32 192.24 543.03 193.06 542.76 C193.89 542.49 194.71 542.24 195.54 542.01 C196.36 541.78 197.19 541.57 198.01 541.39 C198.84 541.2 199.66 541.04 200.49 540.9 C201.31 540.76 202.14 540.65 202.96 540.56 C203.79 540.48 204.61 540.42 205.44 540.39 C206.26 540.36 207.09 540.36 207.91 540.39 C208.74 540.41 209.56 540.45 210.39 540.53 C211.21 540.61 212.04 540.72 212.86 540.86 C213.69 541.01 214.51 541.18 215.34 541.38 C216.16 541.58 216.99 541.81 217.81 542.07 C218.64 542.33 219.46 542.63 220.29 542.95 C221.11 543.27 221.94 543.62 222.76 544.01 C223.59 544.39 224.41 544.8 225.24 545.25 C226.06 545.69 226.89 546.16 227.71 546.67 C228.54 547.17 229.36 547.69 230.19 548.27 C231.01 548.85 231.84 549.48 232.66 550.13 C233.49 550.78 234.31 551.46 235.14 552.18 C235.96 552.89 236.79 553.63 237.61 554.4 C238.44 555.16 239.26 555.97 240.09 556.79 C240.91 557.61 241.74 558.46 242.56 559.31 C243.39 560.15 244.21 561 245.04 561.86 C245.86 562.72 246.69 563.6 247.51 564.47 C248.34 565.34 249.16 566.22 249.99 567.09 C250.81 567.96 251.64 568.83 252.46 569.68 C253.29 570.53 254.11 571.37 254.94 572.19 C255.76 573.01 256.59 573.82 257.41 574.59 C258.24 575.36 259.06 576.11 259.88 576.83 C260.71 577.55 261.53 578.24 262.36 578.9 C263.18 579.56 264.01 580.2 264.83 580.81 C265.66 581.41 266.48 581.99 267.31 582.53 C268.13 583.08 268.96 583.59 269.78 584.07 C270.61 584.55 271.43 585 272.26 585.42 C273.08 585.84 273.91 586.23 274.73 586.59 C275.56 586.95 276.38 587.27 277.21 587.57 C278.03 587.86 278.86 588.12 279.68 588.35 C280.51 588.58 281.33 588.78 282.16 588.95 C282.98 589.12 283.81 589.26 284.63 589.38 C285.46 589.49 286.28 589.58 287.11 589.64 C287.93 589.7 288.76 589.73 289.58 589.74 C290.41 589.75 291.23 589.73 292.06 589.69 C292.88 589.66 293.71 589.59 294.53 589.51 C295.36 589.43 296.18 589.3 297.01 589.2 C297.83 589.09 298.66 589 299.48 588.88 C300.31 588.75 301.13 588.61 301.96 588.44 C302.78 588.28 303.61 588.1 304.43 587.91 C305.26 587.71 306.08 587.5 306.91 587.28 C307.73 587.05 308.56 586.82 309.38 586.56 C310.21 586.31 311.03 586.05 311.86 585.77 C312.68 585.5 313.51 585.21 314.33 584.91 C315.16 584.62 315.98 584.31 316.81 583.99 C317.63 583.68 318.46 583.35 319.28 583.02 C320.11 582.68 320.93 582.33 321.76 581.98 C322.58 581.62 323.41 581.27 324.23 580.9 C325.06 580.52 325.88 580.15 326.71 579.76 C327.53 579.37 328.35 578.97 329.18 578.56 C330 578.15 330.83 577.73 331.65 577.31 C332.48 576.88 333.3 576.46 334.13 575.99 C334.95 575.53 335.78 575.03 336.6 574.52 C337.43 574.01 338.25 573.47 339.08 572.93 C339.9 572.4 340.73 571.85 341.55 571.29 C342.38 570.73 343.2 570.18 344.03 569.59 C344.85 569.01 345.68 568.41 346.5 567.81 C347.33 567.2 348.15 566.57 348.98 565.94 C349.8 565.31 350.63 564.67 351.45 564.02 C352.28 563.37 353.1 562.71 353.93 562.04 C354.75 561.38 355.58 560.7 356.4 560.02 C357.23 559.34 358.05 558.65 358.88 557.96 C359.7 557.26 360.53 556.56 361.35 555.85 C362.18 555.15 363 554.44 363.83 553.72 C364.65 553.01 365.48 552.29 366.3 551.58 C367.13 550.86 367.95 550.14 368.78 549.42 C369.6 548.7 370.43 547.98 371.25 547.26 C372.08 546.54 372.9 545.82 373.73 545.1 C374.55 544.39 375.38 543.67 376.2 542.97 C377.03 542.26 377.85 541.57 378.68 540.87 C379.5 540.18 380.33 539.49 381.15 538.81 C381.98 538.13 382.8 537.45 383.63 536.78 C384.45 536.11 385.28 535.45 386.1 534.8 C386.93 534.14 387.75 533.49 388.58 532.86 C389.4 532.24 390.23 531.64 391.05 531.05 C391.88 530.46 392.7 529.89 393.53 529.33 C394.35 528.77 395.59 527.96 396 527.69" stroke="#000" stroke-width="3.9" stroke-linejoin="round"/>
</g>
<path d="M82.29 689.5v-3.4 M82.29 395.4v3.4 M93.8 689.5v-3.4 M93.8 395.4v3.4 M101.97 689.5v-3.4 M101.97 395.4v3.4 M108.31 689.5v-3.4 M108.31 395.4v3.4 M113.49 689.5v-3.4 M113.49 395.4v3.4 M117.87 689.5v-3.4 M117.87 395.4v3.4 M121.66 689.5v-3.4 M121.66 395.4v3.4 M125.01 689.5v-3.4 M125.01 395.4v3.4 M128 689.5v-5.4 M128 395.4v5.4 M147.69 689.5v-3.4 M147.69 395.4v3.4 M159.2 689.5v-3.4 M159.2 395.4v3.4 M167.37 689.5v-3.4 M167.37 395.4v3.4 M173.71 689.5v-3.4 M173.71 395.4v3.4 M178.89 689.5v-3.4 M178.89 395.4v3.4 M183.27 689.5v-3.4 M183.27 395.4v3.4 M187.06 689.5v-3.4 M187.06 395.4v3.4 M190.41 689.5v-3.4 M190.41 395.4v3.4 M193.4 689.5v-5.4 M193.4 395.4v5.4 M213.09 689.5v-3.4 M213.09 395.4v3.4 M224.6 689.5v-3.4 M224.6 395.4v3.4 M232.77 689.5v-3.4 M232.77 395.4v3.4 M239.11 689.5v-3.4 M239.11 395.4v3.4 M244.29 689.5v-3.4 M244.29 395.4v3.4 M248.67 689.5v-3.4 M248.67 395.4v3.4 M252.46 689.5v-3.4 M252.46 395.4v3.4 M255.81 689.5v-3.4 M255.81 395.4v3.4 M258.8 689.5v-5.4 M258.8 395.4v5.4 M278.49 689.5v-3.4 M278.49 395.4v3.4 M290 689.5v-3.4 M290 395.4v3.4 M298.17 689.5v-3.4 M298.17 395.4v3.4 M304.51 689.5v-3.4 M304.51 395.4v3.4 M309.69 689.5v-3.4 M309.69 395.4v3.4 M314.07 689.5v-3.4 M314.07 395.4v3.4 M317.86 689.5v-3.4 M317.86 395.4v3.4 M321.21 689.5v-3.4 M321.21 395.4v3.4 M324.2 689.5v-5.4 M324.2 395.4v5.4 M343.89 689.5v-3.4 M343.89 395.4v3.4 M355.4 689.5v-3.4 M355.4 395.4v3.4 M363.57 689.5v-3.4 M363.57 395.4v3.4 M369.91 689.5v-3.4 M369.91 395.4v3.4 M375.09 689.5v-3.4 M375.09 395.4v3.4 M379.47 689.5v-3.4 M379.47 395.4v3.4 M383.26 689.5v-3.4 M383.26 395.4v3.4 M386.61 689.5v-3.4 M386.61 395.4v3.4 M62.6 674.74h3.4 M389.6 674.74h-3.4 M62.6 666.11h3.4 M389.6 666.11h-3.4 M62.6 659.99h3.4 M389.6 659.99h-3.4 M62.6 655.24h3.4 M389.6 655.24h-3.4 M62.6 651.36h3.4 M389.6 651.36h-3.4 M62.6 648.08h3.4 M389.6 648.08h-3.4 M62.6 645.23h3.4 M389.6 645.23h-3.4 M62.6 642.73h3.4 M389.6 642.73h-3.4 M62.6 640.48h5.4 M389.6 640.48h-5.4 M62.6 625.73h3.4 M389.6 625.73h-3.4 M62.6 617.1h3.4 M389.6 617.1h-3.4 M62.6 610.97h3.4 M389.6 610.97h-3.4 M62.6 606.22h3.4 M389.6 606.22h-3.4 M62.6 602.34h3.4 M389.6 602.34h-3.4 M62.6 599.06h3.4 M389.6 599.06h-3.4 M62.6 596.22h3.4 M389.6 596.22h-3.4 M62.6 593.71h3.4 M389.6 593.71h-3.4 M62.6 591.47h5.4 M389.6 591.47h-5.4 M62.6 576.71h3.4 M389.6 576.71h-3.4 M62.6 568.08h3.4 M389.6 568.08h-3.4 M62.6 561.96h3.4 M389.6 561.96h-3.4 M62.6 557.21h3.4 M389.6 557.21h-3.4 M62.6 553.32h3.4 M389.6 553.32h-3.4 M62.6 550.04h3.4 M389.6 550.04h-3.4 M62.6 547.2h3.4 M389.6 547.2h-3.4 M62.6 544.69h3.4 M389.6 544.69h-3.4 M62.6 542.45h5.4 M389.6 542.45h-5.4 M62.6 527.69h3.4 M389.6 527.69h-3.4 M62.6 519.06h3.4 M389.6 519.06h-3.4 M62.6 512.94h3.4 M389.6 512.94h-3.4 M62.6 508.19h3.4 M389.6 508.19h-3.4 M62.6 504.31h3.4 M389.6 504.31h-3.4 M62.6 501.03h3.4 M389.6 501.03h-3.4 M62.6 498.18h3.4 M389.6 498.18h-3.4 M62.6 495.68h3.4 M389.6 495.68h-3.4 M62.6 493.43h5.4 M389.6 493.43h-5.4 M62.6 478.68h3.4 M389.6 478.68h-3.4 M62.6 470.05h3.4 M389.6 470.05h-3.4 M62.6 463.92h3.4 M389.6 463.92h-3.4 M62.6 459.17h3.4 M389.6 459.17h-3.4 M62.6 455.29h3.4 M389.6 455.29h-3.4 M62.6 452.01h3.4 M389.6 452.01h-3.4 M62.6 449.17h3.4 M389.6 449.17h-3.4 M62.6 446.66h3.4 M389.6 446.66h-3.4 M62.6 444.42h5.4 M389.6 444.42h-5.4 M62.6 429.66h3.4 M389.6 429.66h-3.4 M62.6 421.03h3.4 M389.6 421.03h-3.4 M62.6 414.91h3.4 M389.6 414.91h-3.4 M62.6 410.16h3.4 M389.6 410.16h-3.4 M62.6 406.27h3.4 M389.6 406.27h-3.4 M62.6 402.99h3.4 M389.6 402.99h-3.4 M62.6 400.15h3.4 M389.6 400.15h-3.4 M62.6 397.64h3.4 M389.6 397.64h-3.4" stroke="#000" stroke-width="1.9" fill="none"/>
<rect x="62.6" y="395.4" width="327" height="294.1" fill="none" stroke="#000" stroke-width="2.1"/>
<g font-family='"Liberation Serif", serif' font-weight="bold" font-size="15.8" fill="#000">
<text x="44.59" y="709.6" font-size="16.2" xml:space="preserve">10</text><rect x="60.92" y="699.58" width="6.3" height="1.25" fill="#000"/><text x="66.92" y="703.7" font-size="12.5" xml:space="preserve">11</text>
<text x="109.55" y="709.6" font-size="16.2" xml:space="preserve">10</text><rect x="125.89" y="699.58" width="6.3" height="1.25" fill="#000"/><text x="131.89" y="703.7" font-size="12.5" xml:space="preserve">10</text>
<text x="177.74" y="709.6" font-size="16.2" xml:space="preserve">10</text><rect x="194.07" y="699.58" width="6.3" height="1.25" fill="#000"/><text x="200.76" y="703.7" font-size="12.5" xml:space="preserve">9</text>
<text x="243.14" y="709.6" font-size="16.2" xml:space="preserve">10</text><rect x="259.47" y="699.58" width="6.3" height="1.25" fill="#000"/><text x="266.09" y="703.7" font-size="12.5" xml:space="preserve">8</text>
<text x="308.63" y="709.6" font-size="16.2" xml:space="preserve">10</text><rect x="324.96" y="699.58" width="6.3" height="1.25" fill="#000"/><text x="331.27" y="703.7" font-size="12.5" xml:space="preserve">7</text>
<text x="373.9" y="709.6" font-size="16.2" xml:space="preserve">10</text><rect x="390.24" y="699.58" width="6.3" height="1.25" fill="#000"/><text x="396.86" y="703.7" font-size="12.5" xml:space="preserve">6</text>
<text x="28.97" y="695.8" font-size="16.2" xml:space="preserve">10</text><rect x="45.3" y="685.38" width="6.3" height="1.25" fill="#000"/><text x="51.93" y="689.5" font-size="12.5" xml:space="preserve">8</text>
<text x="29.15" y="646.78" font-size="16.2" xml:space="preserve">10</text><rect x="45.49" y="636.36" width="6.3" height="1.25" fill="#000"/><text x="51.8" y="640.48" font-size="12.5" xml:space="preserve">7</text>
<text x="28.9" y="597.77" font-size="16.2" xml:space="preserve">10</text><rect x="45.24" y="587.34" width="6.3" height="1.25" fill="#000"/><text x="51.86" y="591.47" font-size="12.5" xml:space="preserve">6</text>
<text x="29.15" y="548.75" font-size="16.2" xml:space="preserve">10</text><rect x="45.49" y="538.33" width="6.3" height="1.25" fill="#000"/><text x="51.99" y="542.45" font-size="12.5" xml:space="preserve">5</text>
<text x="28.53" y="499.73" font-size="16.2" xml:space="preserve">10</text><rect x="44.86" y="489.31" width="6.3" height="1.25" fill="#000"/><text x="51.74" y="493.43" font-size="12.5" xml:space="preserve">4</text>
<text x="29.03" y="450.72" font-size="16.2" xml:space="preserve">10</text><rect x="45.36" y="440.29" width="6.3" height="1.25" fill="#000"/><text x="51.93" y="444.42" font-size="12.5" xml:space="preserve">3</text>
<text x="29.22" y="401.7" font-size="16.2" xml:space="preserve">10</text><rect x="45.55" y="391.27" width="6.3" height="1.25" fill="#000"/><text x="52.05" y="395.4" font-size="12.5" xml:space="preserve">2</text>
<text x="99.86" y="736.8" font-size="15.8" letter-spacing="-0.02" xml:space="preserve">Electric Field Strength</text>
<text x="262.66" y="736.8" font-size="15.8" font-style="italic" xml:space="preserve">E</text>
<text x="281.39" y="736.8" font-size="15.8" letter-spacing="-0.08" xml:space="preserve">[esu cm</text>
<rect x="333.8" y="726.7" width="6.4" height="1.2" fill="#000"/>
<text x="340.72" y="730.6" font-size="12" xml:space="preserve">2</text>
<text x="346.95" y="736.8" font-size="15.8" xml:space="preserve">]</text>
<g transform="translate(17.6 542.45) rotate(-90)">
<text x="-116.31" y="0" font-size="15.8" letter-spacing="-0.04" xml:space="preserve">Current Density</text>
<text x="3.78" y="0" font-size="15.8" font-style="italic" xml:space="preserve">J</text>
<text x="19.49" y="0" font-size="15.8" letter-spacing="-0.05" xml:space="preserve">[esu cm</text>
<rect x="72.3" y="-10.1" width="6.2" height="1.2" fill="#000"/>
<text x="78.92" y="-6.2" font-size="12" xml:space="preserve">2</text>
<text x="88.83" y="0" font-size="15.8" xml:space="preserve">s</text>
<rect x="96.8" y="-10.1" width="6.2" height="1.2" fill="#000"/>
<text x="103.44" y="-6.2" font-size="12" xml:space="preserve">1</text>
<text x="110.45" y="0" font-size="15.8" xml:space="preserve">]</text>
</g>
<text x="84.66" y="431.9" font-size="15.8" letter-spacing="-0.01" xml:space="preserve">Model C</text>
</g>
</g>
<g id="panelD">
<line x1="623.3" y1="396.6" x2="623.3" y2="688.3" stroke="#727272" stroke-width="1.2"/>
<line x1="784.35" y1="396.6" x2="784.35" y2="688.3" stroke="#8c8c8c" stroke-width="1.35" stroke-dasharray="5.5 4.29" stroke-dashoffset="4.2"/>
<g clip-path="url(#cpD)" fill="none">
<path d="M550 701.4 C553.33 698.9 563.33 691.42 570 686.43 C576.67 681.44 583.33 676.45 590 671.46 C596.67 666.47 603.33 661.48 610 656.49 C616.67 651.5 623.33 646.51 630 641.52 C636.67 636.53 643.33 631.54 650 626.55 C656.67 621.56 663.33 616.57 670 611.58 C676.67 606.59 683.33 601.6 690 596.61 C696.67 591.62 703.33 586.63 710 581.64 C716.67 576.65 723.33 571.66 730 566.67 C736.67 561.68 743.33 556.69 750 551.7 C756.67 546.71 765.17 540.15 770 536.73 C774.83 533.3 776.5 532.64 779 531.15 C781.5 529.67 783 528.87 785 527.82 C787 526.77 789 525.75 791 524.85 C793 523.94 795 523.11 797 522.4 C799 521.69 801 521.08 803 520.58 C805 520.08 807 519.66 809 519.39 C811 519.12 813 518.95 815 518.95 C817 518.95 820 519.34 821 519.41" stroke="#ff0000" stroke-width="2.5" stroke-dasharray="5.3 5.7" stroke-dashoffset="1.05"/>
<path d="M486 699.62 C486.47 699.28 487.88 698.29 488.82 697.62 C489.75 696.95 490.69 696.28 491.63 695.61 C492.57 694.94 493.51 694.27 494.45 693.59 C495.38 692.91 496.32 692.24 497.26 691.56 C498.2 690.88 499.14 690.2 500.08 689.52 C501.01 688.83 501.95 688.15 502.89 687.46 C503.83 686.78 504.77 686.09 505.71 685.4 C506.64 684.71 507.58 684.02 508.52 683.33 C509.46 682.64 510.4 681.94 511.34 681.25 C512.27 680.56 513.21 679.86 514.15 679.16 C515.09 678.47 516.03 677.77 516.97 677.07 C517.9 676.37 518.84 675.67 519.78 674.97 C520.72 674.27 521.66 673.57 522.6 672.86 C523.54 672.16 524.47 671.46 525.41 670.75 C526.35 670.05 527.29 669.34 528.23 668.63 C529.17 667.93 530.1 667.22 531.04 666.51 C531.98 665.81 532.92 665.1 533.86 664.39 C534.8 663.68 535.73 662.97 536.67 662.26 C537.61 661.56 538.55 660.85 539.49 660.14 C540.43 659.43 541.36 658.72 542.3 658.01 C543.24 657.3 544.18 656.59 545.12 655.87 C546.06 655.16 546.99 654.45 547.93 653.74 C548.87 653.03 549.81 652.32 550.75 651.61 C551.69 650.91 552.62 650.2 553.56 649.49 C554.5 648.79 555.44 648.08 556.38 647.38 C557.32 646.68 558.25 645.98 559.19 645.28 C560.13 644.59 561.07 643.9 562.01 643.21 C562.95 642.52 563.89 641.83 564.82 641.15 C565.76 640.47 566.7 639.79 567.64 639.12 C568.58 638.45 569.52 637.78 570.45 637.12 C571.39 636.46 572.33 635.81 573.27 635.16 C574.21 634.51 575.15 633.87 576.08 633.24 C577.02 632.6 577.96 631.97 578.9 631.35 C579.84 630.73 580.78 630.12 581.71 629.52 C582.65 628.91 583.59 628.32 584.53 627.73 C585.47 627.14 586.41 626.56 587.34 625.99 C588.28 625.42 589.22 624.86 590.16 624.31 C591.1 623.76 592.04 623.22 592.97 622.69 C593.91 622.16 594.85 621.64 595.79 621.12 C596.73 620.61 597.67 620.11 598.61 619.62 C599.54 619.13 600.48 618.65 601.42 618.18 C602.36 617.71 603.3 617.26 604.24 616.81 C605.17 616.36 606.11 615.93 607.05 615.51 C607.99 615.08 608.93 614.67 609.87 614.27 C610.8 613.87 611.74 613.49 612.68 613.11 C613.62 612.74 614.56 612.38 615.5 612.03 C616.43 611.69 617.37 611.35 618.31 611.03 C619.25 610.71 620.19 610.4 621.13 610.1 C622.06 609.81 623 609.52 623.94 609.26 C624.88 608.99 625.82 608.73 626.76 608.49 C627.69 608.25 628.63 608.02 629.57 607.8 C630.51 607.58 631.45 607.38 632.39 607.19 C633.32 607 634.26 606.83 635.2 606.67 C636.14 606.5 637.08 606.35 638.02 606.21 C638.96 606.07 639.89 605.94 640.83 605.82 C641.77 605.71 642.71 605.6 643.65 605.5 C644.59 605.4 645.52 605.31 646.46 605.23 C647.4 605.15 648.34 605.07 649.28 605 C650.22 604.94 651.15 604.88 652.09 604.82 C653.03 604.77 653.97 604.72 654.91 604.68 C655.85 604.63 656.78 604.6 657.72 604.56 C658.66 604.53 659.6 604.5 660.54 604.47 C661.48 604.44 662.41 604.42 663.35 604.4 C664.29 604.38 665.23 604.36 666.17 604.35 C667.11 604.34 668.04 604.33 668.98 604.32 C669.92 604.31 670.86 604.31 671.8 604.3 C672.74 604.3 673.68 604.3 674.61 604.3 C675.55 604.3 676.49 604.31 677.43 604.31 C678.37 604.31 679.31 604.32 680.24 604.33 C681.18 604.34 682.12 604.35 683.06 604.35 C684 604.36 684.94 604.38 685.87 604.39 C686.81 604.4 687.75 604.41 688.69 604.42 C689.63 604.43 690.57 604.44 691.5 604.45 C692.44 604.47 693.38 604.48 694.32 604.49 C695.26 604.5 696.2 604.51 697.13 604.52 C698.07 604.53 699.01 604.54 699.95 604.54 C700.89 604.55 701.83 604.56 702.76 604.57 C703.7 604.57 704.64 604.58 705.58 604.59 C706.52 604.59 707.46 604.6 708.39 604.6 C709.33 604.61 710.27 604.61 711.21 604.61 C712.15 604.62 713.09 604.62 714.03 604.62 C714.96 604.63 715.9 604.63 716.84 604.63 C717.78 604.63 718.72 604.63 719.66 604.63 C720.59 604.64 721.53 604.64 722.47 604.64 C723.41 604.64 724.35 604.64 725.29 604.64 C726.22 604.63 727.16 604.63 728.1 604.63 C729.04 604.63 729.98 604.63 730.92 604.63 C731.85 604.63 732.79 604.62 733.73 604.62 C734.67 604.62 735.61 604.62 736.55 604.61 C737.48 604.61 738.42 604.61 739.36 604.6 C740.3 604.6 741.24 604.6 742.18 604.59 C743.11 604.59 744.05 604.59 744.99 604.58 C745.93 604.58 746.87 604.57 747.81 604.57 C748.75 604.57 749.68 604.56 750.62 604.56 C751.56 604.55 752.5 604.55 753.44 604.54 C754.38 604.54 755.31 604.53 756.25 604.53 C757.19 604.53 758.13 604.52 759.07 604.52 C760.01 604.51 760.94 604.51 761.88 604.5 C762.82 604.5 763.76 604.49 764.7 604.49 C765.64 604.49 766.57 604.48 767.51 604.48 C768.45 604.47 769.39 604.47 770.33 604.46 C771.27 604.46 772.2 604.46 773.14 604.45 C774.08 604.45 775.02 604.45 775.96 604.44 C776.9 604.44 777.83 604.44 778.77 604.43 C779.71 604.43 780.65 604.43 781.59 604.43 C782.53 604.42 783.46 604.42 784.4 604.42 C785.34 604.42 786.28 604.42 787.22 604.41 C788.16 604.41 789.1 604.41 790.03 604.41 C790.97 604.41 791.91 604.41 792.85 604.41 C793.79 604.41 794.73 604.41 795.66 604.41 C796.6 604.41 797.54 604.42 798.48 604.42 C799.42 604.42 800.36 604.42 801.29 604.42 C802.23 604.43 803.17 604.43 804.11 604.43 C805.05 604.44 805.99 604.44 806.92 604.45 C807.86 604.45 808.8 604.46 809.74 604.46 C810.68 604.47 811.62 604.47 812.55 604.48 C813.49 604.49 814.43 604.5 815.37 604.5 C816.31 604.51 817.25 604.52 818.18 604.53 C819.12 604.54 820.53 604.56 821 604.56" stroke="#0a14f0" stroke-width="2.5" stroke-dasharray="14.6 6.1" stroke-dashoffset="1.9"/>
<path d="M486 697.63 C486.4 697.34 487.61 696.5 488.41 695.93 C489.21 695.36 490.02 694.79 490.82 694.21 C491.62 693.64 492.43 693.06 493.23 692.48 C494.03 691.9 494.84 691.31 495.64 690.72 C496.44 690.14 497.25 689.54 498.05 688.96 C498.85 688.37 499.66 687.8 500.46 687.22 C501.26 686.64 502.07 686.06 502.87 685.48 C503.67 684.89 504.48 684.31 505.28 683.72 C506.08 683.13 506.89 682.54 507.69 681.95 C508.49 681.36 509.3 680.76 510.1 680.17 C510.9 679.57 511.71 678.98 512.51 678.38 C513.31 677.78 514.12 677.18 514.92 676.58 C515.72 675.98 516.53 675.38 517.33 674.78 C518.13 674.18 518.94 673.57 519.74 672.97 C520.54 672.37 521.35 671.76 522.15 671.16 C522.95 670.55 523.76 669.95 524.56 669.34 C525.36 668.74 526.17 668.13 526.97 667.53 C527.77 666.92 528.58 666.32 529.38 665.71 C530.18 665.11 530.99 664.5 531.79 663.9 C532.59 663.29 533.4 662.69 534.2 662.09 C535 661.48 535.81 660.88 536.61 660.28 C537.41 659.68 538.22 659.08 539.02 658.48 C539.82 657.88 540.63 657.28 541.43 656.68 C542.24 656.08 543.04 655.48 543.84 654.89 C544.65 654.29 545.45 653.7 546.25 653.11 C547.06 652.52 547.86 651.93 548.66 651.34 C549.47 650.74 550.27 650.14 551.07 649.53 C551.88 648.92 552.68 648.29 553.48 647.68 C554.29 647.06 555.09 646.45 555.89 645.84 C556.7 645.23 557.5 644.62 558.3 644.02 C559.11 643.41 559.91 642.81 560.71 642.21 C561.52 641.61 562.32 641.01 563.12 640.42 C563.93 639.83 564.73 639.24 565.53 638.65 C566.34 638.06 567.14 637.48 567.94 636.9 C568.75 636.32 569.55 635.74 570.35 635.17 C571.16 634.59 571.96 634.02 572.76 633.46 C573.57 632.89 574.37 632.33 575.17 631.77 C575.98 631.22 576.78 630.66 577.58 630.12 C578.39 629.57 579.19 629.02 579.99 628.48 C580.8 627.94 581.6 627.41 582.4 626.88 C583.21 626.34 584.01 625.82 584.81 625.3 C585.62 624.78 586.42 624.26 587.22 623.75 C588.03 623.24 588.83 622.73 589.63 622.23 C590.44 621.73 591.24 621.24 592.04 620.75 C592.85 620.26 593.65 619.77 594.45 619.3 C595.26 618.82 596.06 618.35 596.86 617.88 C597.67 617.41 598.47 616.95 599.27 616.5 C600.08 616.05 600.88 615.62 601.68 615.19 C602.49 614.76 603.29 614.34 604.09 613.93 C604.9 613.52 605.7 613.11 606.5 612.71 C607.31 612.32 608.11 611.93 608.91 611.54 C609.72 611.16 610.52 610.79 611.32 610.42 C612.13 610.06 612.93 609.7 613.73 609.35 C614.54 609 615.34 608.67 616.14 608.34 C616.95 608.01 617.75 607.68 618.55 607.37 C619.36 607.06 620.16 606.76 620.96 606.47 C621.77 606.18 622.57 605.9 623.37 605.62 C624.18 605.35 624.98 605.09 625.78 604.84 C626.59 604.59 627.39 604.35 628.19 604.11 C629 603.88 629.8 603.65 630.6 603.43 C631.41 603.21 632.21 603 633.01 602.8 C633.82 602.59 634.62 602.39 635.42 602.19 C636.23 602 637.03 601.81 637.83 601.62 C638.64 601.43 639.44 601.25 640.24 601.07 C641.05 600.89 641.85 600.71 642.65 600.53 C643.46 600.36 644.26 600.18 645.06 600.01 C645.87 599.83 646.67 599.66 647.47 599.48 C648.28 599.31 649.08 599.13 649.88 598.95 C650.69 598.78 651.49 598.6 652.29 598.42 C653.1 598.23 653.9 598.04 654.71 597.86 C655.51 597.68 656.31 597.5 657.12 597.32 C657.92 597.14 658.72 596.95 659.53 596.76 C660.33 596.57 661.13 596.37 661.94 596.16 C662.74 595.96 663.54 595.74 664.35 595.52 C665.15 595.3 665.95 595.07 666.76 594.83 C667.56 594.6 668.36 594.35 669.17 594.1 C669.97 593.85 670.77 593.59 671.58 593.32 C672.38 593.05 673.18 592.78 673.99 592.5 C674.79 592.22 675.59 591.93 676.4 591.63 C677.2 591.34 678 591.04 678.81 590.73 C679.61 590.42 680.41 590.11 681.22 589.78 C682.02 589.46 682.82 589.13 683.63 588.8 C684.43 588.47 685.23 588.12 686.04 587.78 C686.84 587.43 687.64 587.08 688.45 586.72 C689.25 586.36 690.05 586 690.86 585.62 C691.66 585.25 692.46 584.88 693.27 584.5 C694.07 584.11 694.87 583.73 695.68 583.33 C696.48 582.94 697.28 582.54 698.09 582.14 C698.89 581.73 699.69 581.32 700.5 580.91 C701.3 580.49 702.1 580.08 702.91 579.65 C703.71 579.23 704.51 578.8 705.32 578.36 C706.12 577.93 706.92 577.49 707.73 577.04 C708.53 576.6 709.33 576.15 710.14 575.69 C710.94 575.24 711.74 574.78 712.55 574.32 C713.35 573.85 714.15 573.39 714.96 572.92 C715.76 572.45 716.56 571.97 717.37 571.49 C718.17 571.01 718.97 570.53 719.78 570.05 C720.58 569.56 721.38 569.07 722.19 568.58 C722.99 568.08 723.79 567.59 724.6 567.09 C725.4 566.59 726.2 566.08 727.01 565.58 C727.81 565.07 728.61 564.56 729.42 564.05 C730.22 563.54 731.02 563.02 731.83 562.5 C732.63 561.98 733.43 561.47 734.24 560.94 C735.04 560.41 735.84 559.88 736.65 559.35 C737.45 558.82 738.25 558.28 739.06 557.74 C739.86 557.2 740.66 556.66 741.47 556.12 C742.27 555.58 743.07 555.03 743.88 554.49 C744.68 553.94 745.48 553.39 746.29 552.84 C747.09 552.29 747.89 551.74 748.7 551.19 C749.5 550.63 750.3 550.08 751.11 549.52 C751.91 548.97 752.71 548.41 753.52 547.85 C754.32 547.29 755.12 546.73 755.93 546.18 C756.73 545.62 757.53 545.06 758.34 544.5 C759.14 543.95 759.94 543.39 760.75 542.84 C761.55 542.29 762.35 541.74 763.16 541.2 C763.96 540.65 764.76 540.11 765.57 539.56 C766.37 539.01 767.18 538.44 767.98 537.9 C768.78 537.35 769.59 536.81 770.39 536.27 C771.19 535.73 772 535.21 772.8 534.69 C773.6 534.17 774.41 533.65 775.21 533.15 C776.01 532.65 776.82 532.15 777.62 531.67 C778.42 531.18 779.23 530.71 780.03 530.24 C780.83 529.78 781.64 529.33 782.44 528.89 C783.24 528.45 784.05 528.02 784.85 527.6 C785.65 527.17 786.46 526.74 787.26 526.33 C788.06 525.93 788.87 525.53 789.67 525.15 C790.47 524.77 791.28 524.41 792.08 524.06 C792.88 523.71 793.69 523.37 794.49 523.05 C795.29 522.73 796.1 522.42 796.9 522.13 C797.7 521.84 798.51 521.57 799.31 521.31 C800.11 521.06 800.92 520.82 801.72 520.6 C802.52 520.38 803.33 520.18 804.13 519.99 C804.93 519.81 805.74 519.64 806.54 519.49 C807.34 519.34 808.15 519.21 808.95 519.1 C809.75 518.99 810.56 518.89 811.36 518.82 C812.16 518.74 812.97 518.68 813.77 518.65 C814.57 518.62 815.38 518.62 816.18 518.65 C816.98 518.68 817.79 518.74 818.59 518.82 C819.39 518.9 820.6 519.07 821 519.11" stroke="#000" stroke-width="3.9" stroke-linejoin="round"/>
</g>
<path d="M511.01 688.3v-3.4 M511.01 396.6v3.4 M522.42 688.3v-3.4 M522.42 396.6v3.4 M530.51 688.3v-3.4 M530.51 396.6v3.4 M536.79 688.3v-3.4 M536.79 396.6v3.4 M541.92 688.3v-3.4 M541.92 396.6v3.4 M546.26 688.3v-3.4 M546.26 396.6v3.4 M550.02 688.3v-3.4 M550.02 396.6v3.4 M553.33 688.3v-3.4 M553.33 396.6v3.4 M556.3 688.3v-5.4 M556.3 396.6v5.4 M575.81 688.3v-3.4 M575.81 396.6v3.4 M587.22 688.3v-3.4 M587.22 396.6v3.4 M595.31 688.3v-3.4 M595.31 396.6v3.4 M601.59 688.3v-3.4 M601.59 396.6v3.4 M606.72 688.3v-3.4 M606.72 396.6v3.4 M611.06 688.3v-3.4 M611.06 396.6v3.4 M614.82 688.3v-3.4 M614.82 396.6v3.4 M618.13 688.3v-3.4 M618.13 396.6v3.4 M621.1 688.3v-5.4 M621.1 396.6v5.4 M640.61 688.3v-3.4 M640.61 396.6v3.4 M652.02 688.3v-3.4 M652.02 396.6v3.4 M660.11 688.3v-3.4 M660.11 396.6v3.4 M666.39 688.3v-3.4 M666.39 396.6v3.4 M671.52 688.3v-3.4 M671.52 396.6v3.4 M675.86 688.3v-3.4 M675.86 396.6v3.4 M679.62 688.3v-3.4 M679.62 396.6v3.4 M682.93 688.3v-3.4 M682.93 396.6v3.4 M685.9 688.3v-5.4 M685.9 396.6v5.4 M705.41 688.3v-3.4 M705.41 396.6v3.4 M716.82 688.3v-3.4 M716.82 396.6v3.4 M724.91 688.3v-3.4 M724.91 396.6v3.4 M731.19 688.3v-3.4 M731.19 396.6v3.4 M736.32 688.3v-3.4 M736.32 396.6v3.4 M740.66 688.3v-3.4 M740.66 396.6v3.4 M744.42 688.3v-3.4 M744.42 396.6v3.4 M747.73 688.3v-3.4 M747.73 396.6v3.4 M750.7 688.3v-5.4 M750.7 396.6v5.4 M770.21 688.3v-3.4 M770.21 396.6v3.4 M781.62 688.3v-3.4 M781.62 396.6v3.4 M789.71 688.3v-3.4 M789.71 396.6v3.4 M795.99 688.3v-3.4 M795.99 396.6v3.4 M801.12 688.3v-3.4 M801.12 396.6v3.4 M805.46 688.3v-3.4 M805.46 396.6v3.4 M809.22 688.3v-3.4 M809.22 396.6v3.4 M812.53 688.3v-3.4 M812.53 396.6v3.4 M491.5 673.66h3.4 M815.5 673.66h-3.4 M491.5 665.1h3.4 M815.5 665.1h-3.4 M491.5 659.03h3.4 M815.5 659.03h-3.4 M491.5 654.32h3.4 M815.5 654.32h-3.4 M491.5 650.47h3.4 M815.5 650.47h-3.4 M491.5 647.21h3.4 M815.5 647.21h-3.4 M491.5 644.39h3.4 M815.5 644.39h-3.4 M491.5 641.91h3.4 M815.5 641.91h-3.4 M491.5 639.68h5.4 M815.5 639.68h-5.4 M491.5 625.05h3.4 M815.5 625.05h-3.4 M491.5 616.49h3.4 M815.5 616.49h-3.4 M491.5 610.41h3.4 M815.5 610.41h-3.4 M491.5 605.7h3.4 M815.5 605.7h-3.4 M491.5 601.85h3.4 M815.5 601.85h-3.4 M491.5 598.6h3.4 M815.5 598.6h-3.4 M491.5 595.78h3.4 M815.5 595.78h-3.4 M491.5 593.29h3.4 M815.5 593.29h-3.4 M491.5 591.07h5.4 M815.5 591.07h-5.4 M491.5 576.43h3.4 M815.5 576.43h-3.4 M491.5 567.87h3.4 M815.5 567.87h-3.4 M491.5 561.8h3.4 M815.5 561.8h-3.4 M491.5 557.09h3.4 M815.5 557.09h-3.4 M491.5 553.24h3.4 M815.5 553.24h-3.4 M491.5 549.98h3.4 M815.5 549.98h-3.4 M491.5 547.16h3.4 M815.5 547.16h-3.4 M491.5 544.67h3.4 M815.5 544.67h-3.4 M491.5 542.45h5.4 M815.5 542.45h-5.4 M491.5 527.81h3.4 M815.5 527.81h-3.4 M491.5 519.25h3.4 M815.5 519.25h-3.4 M491.5 513.18h3.4 M815.5 513.18h-3.4 M491.5 508.47h3.4 M815.5 508.47h-3.4 M491.5 504.62h3.4 M815.5 504.62h-3.4 M491.5 501.36h3.4 M815.5 501.36h-3.4 M491.5 498.54h3.4 M815.5 498.54h-3.4 M491.5 496.06h3.4 M815.5 496.06h-3.4 M491.5 493.83h5.4 M815.5 493.83h-5.4 M491.5 479.2h3.4 M815.5 479.2h-3.4 M491.5 470.64h3.4 M815.5 470.64h-3.4 M491.5 464.56h3.4 M815.5 464.56h-3.4 M491.5 459.85h3.4 M815.5 459.85h-3.4 M491.5 456h3.4 M815.5 456h-3.4 M491.5 452.75h3.4 M815.5 452.75h-3.4 M491.5 449.93h3.4 M815.5 449.93h-3.4 M491.5 447.44h3.4 M815.5 447.44h-3.4 M491.5 445.22h5.4 M815.5 445.22h-5.4 M491.5 430.58h3.4 M815.5 430.58h-3.4 M491.5 422.02h3.4 M815.5 422.02h-3.4 M491.5 415.95h3.4 M815.5 415.95h-3.4 M491.5 411.24h3.4 M815.5 411.24h-3.4 M491.5 407.39h3.4 M815.5 407.39h-3.4 M491.5 404.13h3.4 M815.5 404.13h-3.4 M491.5 401.31h3.4 M815.5 401.31h-3.4 M491.5 398.82h3.4 M815.5 398.82h-3.4" stroke="#000" stroke-width="1.9" fill="none"/>
<rect x="491.5" y="396.6" width="324" height="291.7" fill="none" stroke="#000" stroke-width="2.1"/>
<g font-family='"Liberation Serif", serif' font-weight="bold" font-size="15.8" fill="#000">
<text x="473.49" y="708.4" font-size="16.2" xml:space="preserve">10</text><rect x="489.82" y="698.38" width="6.3" height="1.25" fill="#000"/><text x="495.82" y="702.5" font-size="12.5" xml:space="preserve">11</text>
<text x="537.85" y="708.4" font-size="16.2" xml:space="preserve">10</text><rect x="554.19" y="698.38" width="6.3" height="1.25" fill="#000"/><text x="560.19" y="702.5" font-size="12.5" xml:space="preserve">10</text>
<text x="605.44" y="708.4" font-size="16.2" xml:space="preserve">10</text><rect x="621.77" y="698.38" width="6.3" height="1.25" fill="#000"/><text x="628.46" y="702.5" font-size="12.5" xml:space="preserve">9</text>
<text x="670.24" y="708.4" font-size="16.2" xml:space="preserve">10</text><rect x="686.57" y="698.38" width="6.3" height="1.25" fill="#000"/><text x="693.19" y="702.5" font-size="12.5" xml:space="preserve">8</text>
<text x="735.13" y="708.4" font-size="16.2" xml:space="preserve">10</text><rect x="751.46" y="698.38" width="6.3" height="1.25" fill="#000"/><text x="757.77" y="702.5" font-size="12.5" xml:space="preserve">7</text>
<text x="799.8" y="708.4" font-size="16.2" xml:space="preserve">10</text><rect x="816.14" y="698.38" width="6.3" height="1.25" fill="#000"/><text x="822.76" y="702.5" font-size="12.5" xml:space="preserve">6</text>
<text x="452.3" y="694.6" font-size="16.2" xml:space="preserve">10</text><rect x="468.64" y="684.17" width="6.3" height="1.25" fill="#000"/><text x="474.64" y="688.3" font-size="12.5" xml:space="preserve">10</text>
<text x="457.87" y="645.98" font-size="16.2" xml:space="preserve">10</text><rect x="474.2" y="635.56" width="6.3" height="1.25" fill="#000"/><text x="480.89" y="639.68" font-size="12.5" xml:space="preserve">9</text>
<text x="457.87" y="597.37" font-size="16.2" xml:space="preserve">10</text><rect x="474.2" y="586.94" width="6.3" height="1.25" fill="#000"/><text x="480.82" y="591.07" font-size="12.5" xml:space="preserve">8</text>
<text x="458.05" y="548.75" font-size="16.2" xml:space="preserve">10</text><rect x="474.39" y="538.33" width="6.3" height="1.25" fill="#000"/><text x="480.7" y="542.45" font-size="12.5" xml:space="preserve">7</text>
<text x="457.8" y="500.13" font-size="16.2" xml:space="preserve">10</text><rect x="474.14" y="489.71" width="6.3" height="1.25" fill="#000"/><text x="480.76" y="493.83" font-size="12.5" xml:space="preserve">6</text>
<text x="458.05" y="451.52" font-size="16.2" xml:space="preserve">10</text><rect x="474.39" y="441.09" width="6.3" height="1.25" fill="#000"/><text x="480.89" y="445.22" font-size="12.5" xml:space="preserve">5</text>
<text x="457.43" y="402.9" font-size="16.2" xml:space="preserve">10</text><rect x="473.76" y="392.48" width="6.3" height="1.25" fill="#000"/><text x="480.64" y="396.6" font-size="12.5" xml:space="preserve">4</text>
<text x="527.26" y="735.6" font-size="15.8" letter-spacing="-0.02" xml:space="preserve">Electric Field Strength</text>
<text x="690.06" y="735.6" font-size="15.8" font-style="italic" xml:space="preserve">E</text>
<text x="708.79" y="735.6" font-size="15.8" letter-spacing="-0.08" xml:space="preserve">[esu cm</text>
<rect x="761.2" y="725.5" width="6.4" height="1.2" fill="#000"/>
<text x="768.12" y="729.4" font-size="12" xml:space="preserve">2</text>
<text x="774.35" y="735.6" font-size="15.8" xml:space="preserve">]</text>
<g transform="translate(446.5 542.45) rotate(-90)">
<text x="-116.31" y="0" font-size="15.8" letter-spacing="-0.04" xml:space="preserve">Current Density</text>
<text x="3.78" y="0" font-size="15.8" font-style="italic" xml:space="preserve">J</text>
<text x="19.49" y="0" font-size="15.8" letter-spacing="-0.05" xml:space="preserve">[esu cm</text>
<rect x="72.3" y="-10.1" width="6.2" height="1.2" fill="#000"/>
<text x="78.92" y="-6.2" font-size="12" xml:space="preserve">2</text>
<text x="88.83" y="0" font-size="15.8" xml:space="preserve">s</text>
<rect x="96.8" y="-10.1" width="6.2" height="1.2" fill="#000"/>
<text x="103.44" y="-6.2" font-size="12" xml:space="preserve">1</text>
<text x="110.45" y="0" font-size="15.8" xml:space="preserve">]</text>
</g>
<text x="513.56" y="433.1" font-size="15.8" letter-spacing="-0.08" xml:space="preserve">Model D</text>
</g>
</g>
<path d="M689.7 84.7 C689.7 83.2 688.6 82.1 686.6 82 C684.3 81.9 682.6 83.4 682.6 85.3 C682.6 87.2 684.8 88.4 686.4 89.5 C687.6 90.4 688.1 91.6 687.4 92.7 C686.4 94.1 684 94.4 682.3 94.1 C680.3 93.7 679 92.6 679.2 91.2 C679.3 90.6 679.6 90.3 680 90.3" fill="none" stroke="#a62a48" stroke-width="1.35" stroke-linecap="round"/>
<g font-family='"Liberation Serif", serif' font-weight="bold" fill="#a62a48">
<path d="M691.1 87h8.8v1.45h-8.8zM691.1 90.6h8.8v1.45h-8.8z"/>
<text x="701.24" y="93.9" font-size="15.8" xml:space="preserve">1</text>
</g>
<path d="M693.5 101.2V112.4 M690 108.7L693.5 112.4L697 108.7" fill="none" stroke="#a62a48" stroke-width="1.5" stroke-linejoin="miter"/>
<path d="M205.9 506.2 C206 503.8 207.5 502 210 501.6 C213 501 216.3 501.3 217.6 503 C218.9 504.8 217.6 507 215 508 C213.8 508.4 212.3 508.6 211 508.5 M211.5 501.5 C210.9 504.5 209.6 508.3 207.1 512.9" fill="none" stroke="#ff7a10" stroke-width="1.3" stroke-linecap="round"/>
<g font-family='"Liberation Serif", serif' font-weight="bold" fill="#ff7a10">
<path d="M219.4 505.5h8.8v1.45h-8.8zM219.4 509.1h8.8v1.45h-8.8z"/>
<text x="229.14" y="511.7" font-size="15.8" xml:space="preserve">1</text>
</g>
<path d="M221.6 520V530.9 M218.1 527.2L221.6 530.9L225.1 527.2" fill="none" stroke="#ff7a10" stroke-width="1.5" stroke-linejoin="miter"/>
<g font-family='"Liberation Serif", serif' font-weight="bold" font-style="italic" font-size="18.1" fill="#000">
<text x="248" y="631.6">J<tspan font-size="12" dy="1.1" dx="0">i</tspan></text>
<text x="365.4" y="597.3">J<tspan font-size="11.6" dy="0.6" dx="-1.4">e</tspan></text>
</g>
<g font-family='"Liberation Serif", serif' font-size="16.3" fill="#808080" stroke="#808080" stroke-width="0.25">
<text transform="translate(187.9 444.2) rotate(-90)" text-anchor="middle"><tspan font-style="italic">E</tspan><tspan dx="0.7">=</tspan><tspan font-style="italic" dx="0.7">E</tspan><tspan font-size="12.5" dy="1.8" letter-spacing="0.5">crit</tspan></text>
<text transform="translate(350 444.2) rotate(-90)" text-anchor="middle"><tspan font-style="italic">E</tspan><tspan dx="0.7">=</tspan><tspan font-style="italic" dx="0.7">E</tspan><tspan font-size="12.5" dy="1.8" letter-spacing="0.5">crit,</tspan><tspan font-size="12.5" font-style="italic">i</tspan></text>
</g>
</svg>
</body></html>
